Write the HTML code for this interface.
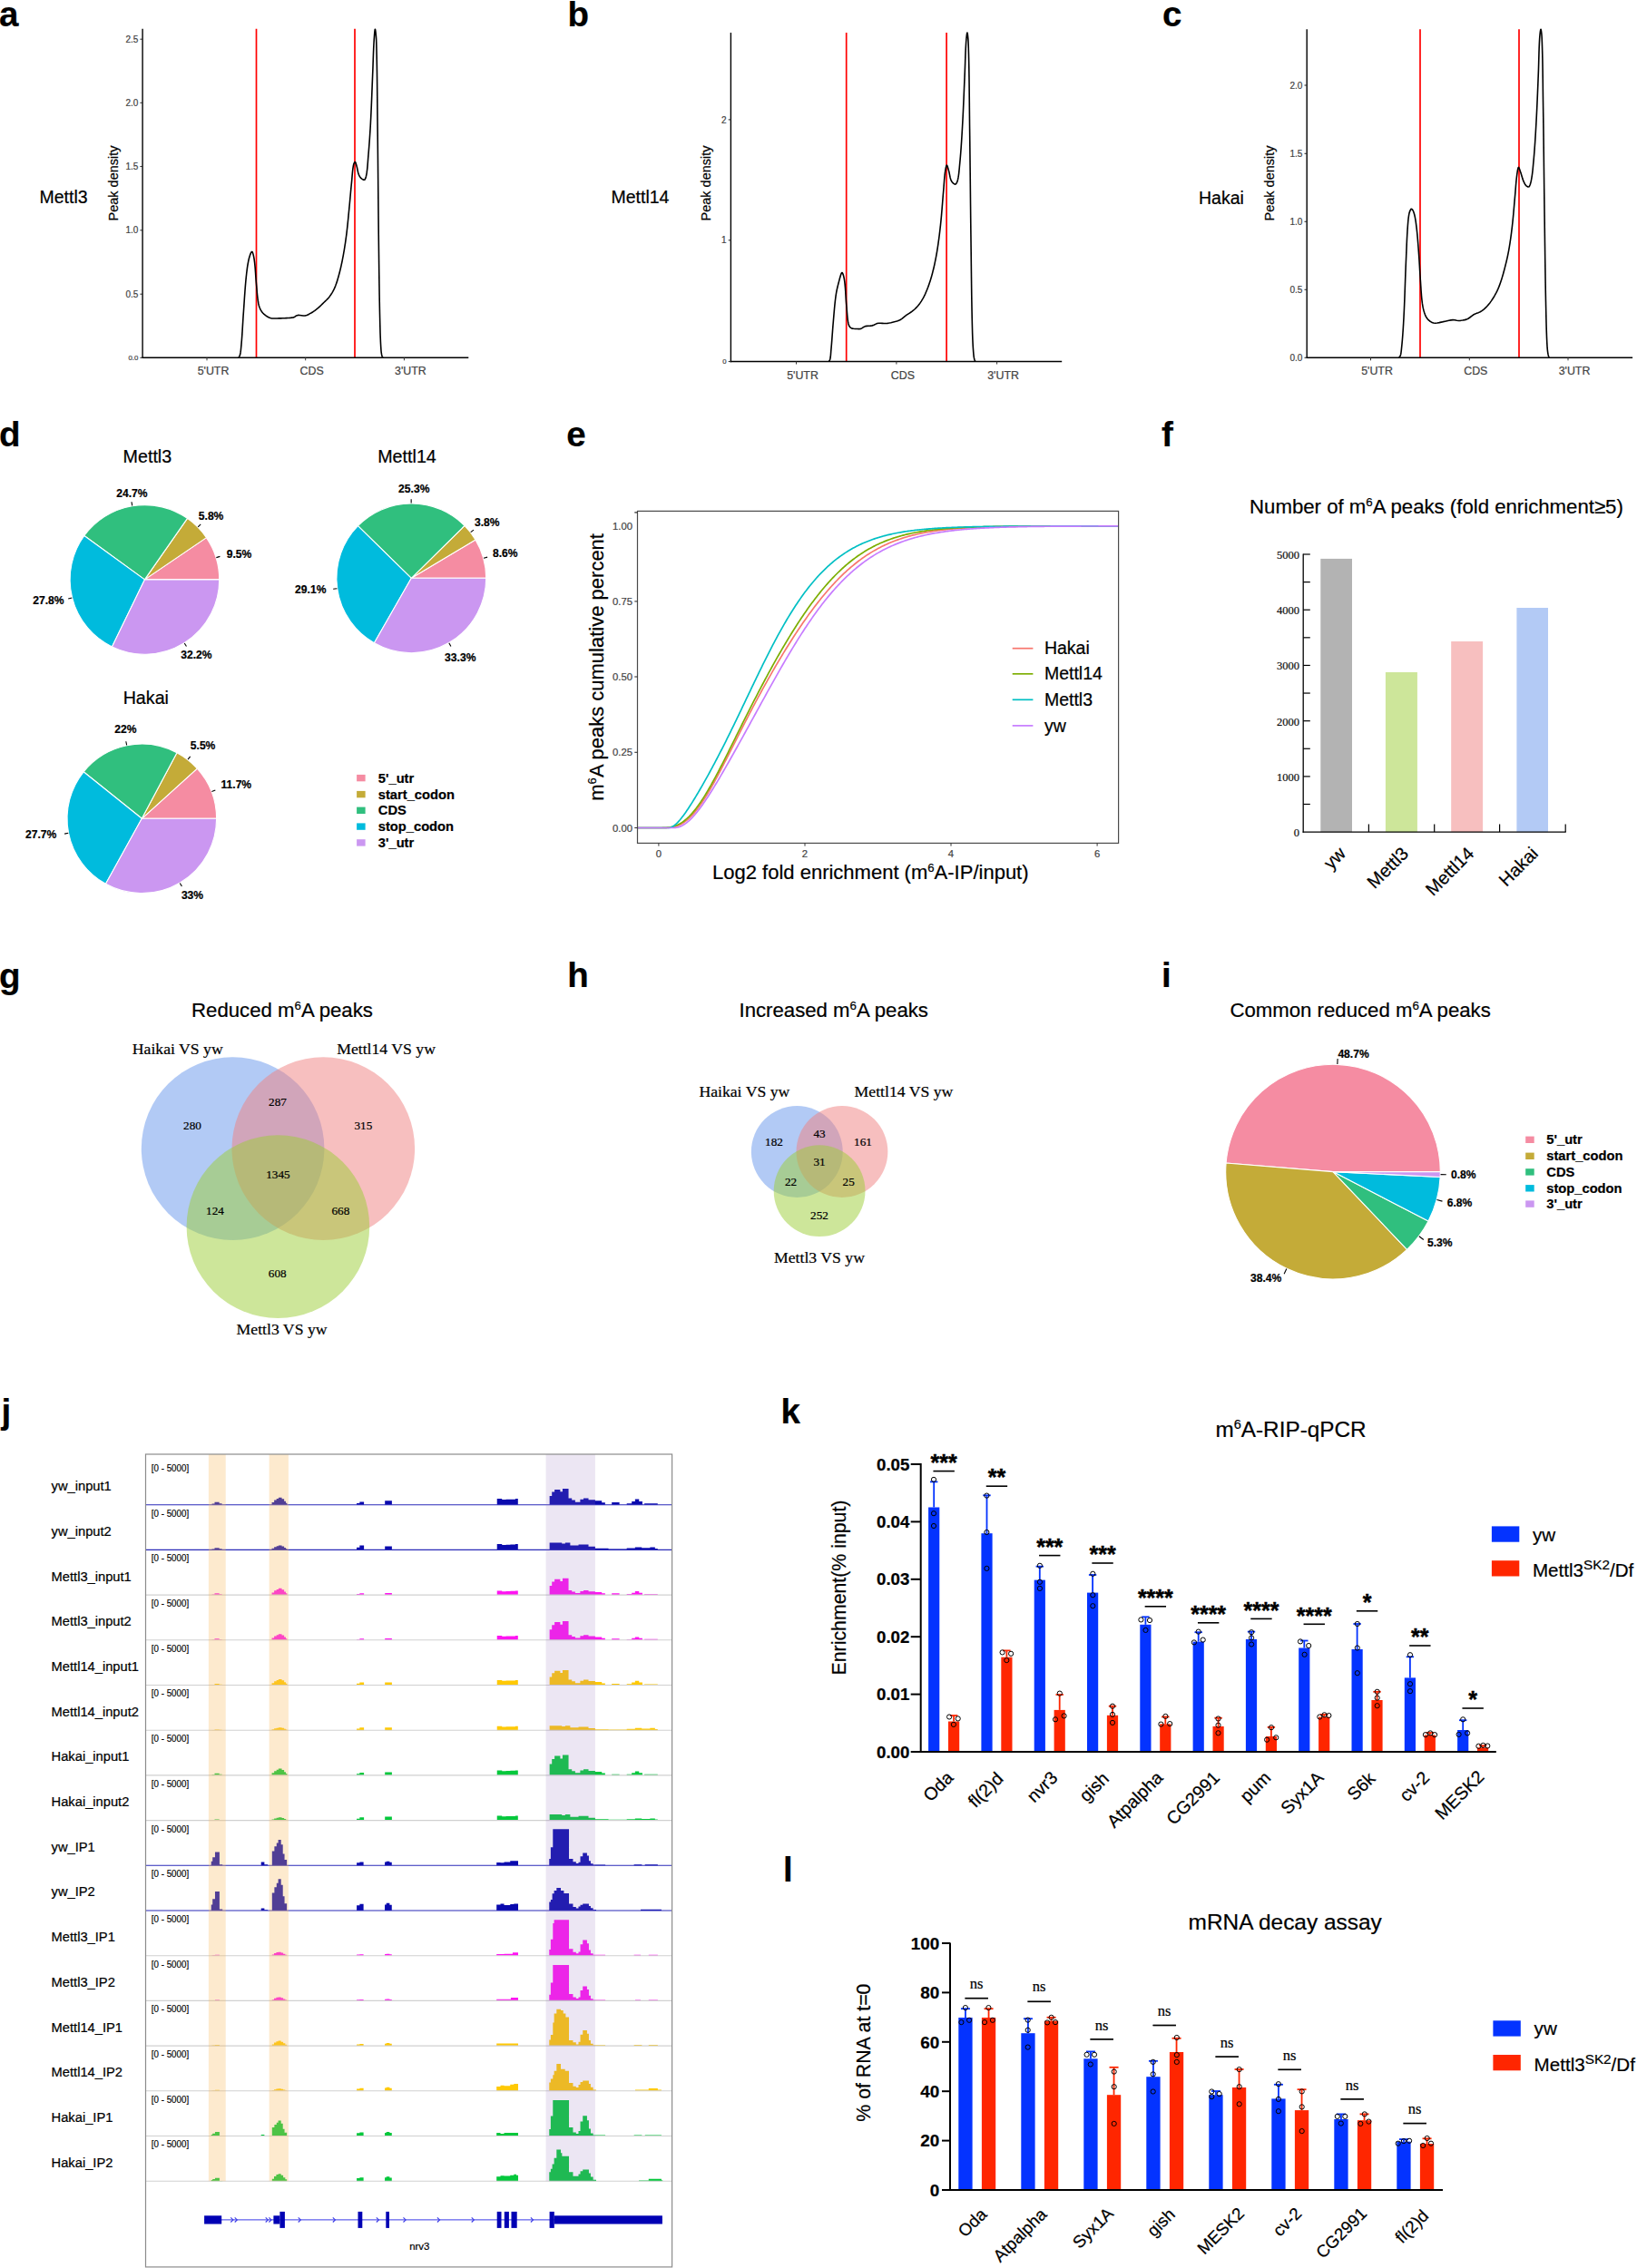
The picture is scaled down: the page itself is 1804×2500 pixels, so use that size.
<!DOCTYPE html>
<html lang="en">
<head>
<meta charset="utf-8">
<title>Figure: m6A peak analysis</title>
<style>
html,body{margin:0;padding:0;background:#fff;}
body{width:1804px;height:2500px;overflow:hidden;}
svg{display:block;font-family:'Liberation Sans', sans-serif;}
text{white-space:pre;}
</style>
</head>
<body>
<svg width="1804" height="2500" viewBox="0 0 1804 2500">
<rect x="0" y="0" width="1804" height="2500" fill="#ffffff"/>
<text x="-1" y="28.5" font-size="38.5" font-weight="bold" stroke="#000" stroke-width="0.22">a</text>
<text x="43.5" y="224" font-size="19.5" stroke="#000" stroke-width="0.22">Mettl3</text>
<text x="129.5" y="202" font-size="14.5" text-anchor="middle" transform="rotate(-90 129.5 202)" stroke="#000" stroke-width="0.22">Peak density</text>
<line x1="282.5" y1="31.7" x2="282.5" y2="394.3" stroke="#ff0000" stroke-width="1.7"/>
<line x1="391" y1="31.7" x2="391" y2="394.3" stroke="#ff0000" stroke-width="1.7"/>
<polyline points="262.9,394.3 263.96,392.59 264.64,390.81 265,388.94 265.27,387 265.49,385.02 265.67,383.04 265.85,381.08 266.02,379.14 266.19,377.19 266.35,375.24 266.49,373.28 266.63,371.33 266.77,369.38 266.89,367.42 267.02,365.47 267.14,363.51 267.26,361.56 267.37,359.6 267.49,357.65 267.61,355.69 267.72,353.74 267.85,351.78 267.97,349.83 268.1,347.87 268.23,345.92 268.37,343.96 268.51,342.01 268.65,340.06 268.78,338.1 268.91,336.15 269.04,334.19 269.17,332.23 269.3,330.28 269.43,328.32 269.56,326.37 269.7,324.41 269.84,322.46 269.98,320.5 270.13,318.55 270.28,316.6 270.44,314.65 270.6,312.7 270.77,310.75 270.95,308.8 271.14,306.85 271.34,304.91 271.55,302.97 271.76,301.02 271.99,299.06 272.24,297.1 272.5,295.14 272.79,293.19 273.11,291.25 273.46,289.33 273.84,287.42 274.27,285.54 274.8,283.51 275.55,281.13 276.39,278.95 277.21,277.54 277.9,277.47 278.59,278.87 279.23,281.11 279.75,283.57 280.1,285.63 280.37,287.55 280.6,289.47 280.81,291.41 281,293.35 281.17,295.3 281.32,297.26 281.46,299.22 281.6,301.19 281.73,303.15 281.86,305.12 282,307.08 282.15,309.05 282.31,311 282.5,312.96 282.68,314.91 282.85,316.87 283.02,318.84 283.18,320.81 283.35,322.78 283.53,324.74 283.72,326.7 283.94,328.65 284.19,330.58 284.47,332.5 284.79,334.39 285.19,336.28 285.79,338.19 286.54,340.06 287.4,341.8 288.38,343.39 289.62,344.94 291.05,346.39 292.61,347.67 294.2,348.72 295.92,349.71 297.78,350.56 299.67,350.99 301.57,350.99 303.51,350.97 305.48,350.94 307.46,350.89 309.44,350.84 311.41,350.79 313.39,350.72 315.38,350.63 317.37,350.51 319.34,350.36 321.26,350.16 323.14,349.92 324.91,349.17 326.61,347.95 328.39,347.4 330.3,347.55 332.29,347.81 334.27,348.05 336.17,348.06 338.02,347.56 339.83,346.69 341.6,345.67 343.32,344.72 344.99,343.71 346.62,342.6 348.2,341.42 349.74,340.21 351.23,338.95 352.66,337.62 354.06,336.24 355.44,334.85 356.85,333.47 358.29,332.13 359.73,330.78 361.11,329.39 362.38,327.93 363.55,326.39 364.68,324.78 365.76,323.11 366.77,321.41 367.7,319.67 368.53,317.93 369.29,316.15 370,314.33 370.66,312.49 371.29,310.62 371.88,308.74 372.44,306.84 372.97,304.95 373.49,303.06 373.99,301.18 374.48,299.28 374.95,297.38 375.4,295.48 375.84,293.56 376.26,291.65 376.67,289.73 377.07,287.81 377.45,285.89 377.83,283.96 378.18,282.04 378.53,280.12 378.87,278.19 379.2,276.26 379.52,274.33 379.83,272.39 380.13,270.46 380.43,268.52 380.72,266.58 380.99,264.64 381.26,262.7 381.52,260.76 381.77,258.82 382.02,256.87 382.25,254.93 382.47,252.99 382.69,251.04 382.9,249.1 383.11,247.15 383.31,245.2 383.5,243.25 383.7,241.3 383.89,239.35 384.07,237.4 384.26,235.45 384.44,233.5 384.63,231.55 384.82,229.6 385,227.65 385.19,225.71 385.37,223.76 385.55,221.81 385.73,219.86 385.91,217.91 386.08,215.95 386.25,214 386.43,212.05 386.61,210.1 386.79,208.15 386.97,206.2 387.16,204.25 387.35,202.31 387.54,200.36 387.73,198.39 387.89,196.42 388.05,194.43 388.2,192.44 388.38,190.46 388.57,188.5 388.8,186.56 389.07,184.64 389.4,182.76 389.81,180.89 390.72,178.74 391.59,178.64 392.36,180.65 393,182.83 393.49,184.73 393.89,186.68 394.28,188.62 394.73,190.53 395.32,192.35 396.16,194.17 397.27,195.83 398.72,197.12 400.63,198.18 401.99,198.14 402.98,196.21 403.52,194.15 403.87,192.3 404.18,190.42 404.44,188.5 404.67,186.56 404.87,184.6 405.05,182.62 405.21,180.63 405.36,178.64 405.5,176.65 405.65,174.67 405.8,172.7 405.96,170.75 406.13,168.8 406.29,166.85 406.45,164.9 406.6,162.94 406.75,160.99 406.9,159.04 407.04,157.09 407.19,155.13 407.32,153.18 407.45,151.22 407.58,149.27 407.71,147.31 407.83,145.36 407.95,143.41 408.07,141.45 408.18,139.5 408.29,137.54 408.39,135.59 408.49,133.63 408.59,131.68 408.69,129.72 408.78,127.76 408.88,125.81 408.97,123.85 409.05,121.9 409.14,119.94 409.22,117.98 409.31,116.03 409.39,114.07 409.47,112.11 409.55,110.16 409.63,108.2 409.71,106.24 409.78,104.29 409.86,102.33 409.93,100.37 410.01,98.42 410.09,96.46 410.16,94.5 410.24,92.55 410.32,90.59 410.39,88.63 410.47,86.68 410.55,84.72 410.63,82.76 410.71,80.81 410.79,78.85 410.87,76.89 410.94,74.93 411.01,72.98 411.07,71.02 411.14,69.06 411.21,67.1 411.27,65.15 411.34,63.19 411.41,61.23 411.48,59.27 411.56,57.32 411.64,55.36 411.72,53.4 411.82,51.45 411.91,49.49 412.02,47.54 412.13,45.59 412.25,43.59 412.41,41.21 412.59,38.63 412.79,36.15 413.01,34.05 413.22,32.64 413.43,32.21 413.65,32.92 413.9,34.54 414.16,36.77 414.39,39.31 414.57,41.86 414.69,44.13 414.75,46.09 414.81,48.04 414.87,49.99 414.92,51.95 414.97,53.9 415.02,55.85 415.07,57.81 415.11,59.76 415.16,61.72 415.2,63.67 415.24,65.63 415.28,67.59 415.31,69.54 415.35,71.5 415.38,73.46 415.41,75.42 415.44,77.37 415.47,79.33 415.5,81.29 415.52,83.25 415.55,85.21 415.57,87.17 415.6,89.13 415.62,91.08 415.64,93.04 415.66,95 415.68,96.96 415.7,98.92 415.72,100.88 415.74,102.84 415.75,104.8 415.77,106.76 415.79,108.72 415.81,110.68 415.82,112.65 415.84,114.61 415.86,116.57 415.87,118.53 415.89,120.49 415.91,122.45 415.92,124.41 415.94,126.37 415.96,128.32 415.98,130.28 416,132.24 416.02,134.2 416.04,136.16 416.06,138.12 416.08,140.08 416.1,142.04 416.12,143.99 416.15,145.95 416.17,147.91 416.19,149.87 416.21,151.83 416.23,153.78 416.25,155.74 416.27,157.7 416.29,159.66 416.31,161.62 416.33,163.57 416.35,165.53 416.37,167.49 416.39,169.45 416.41,171.41 416.43,173.37 416.45,175.32 416.47,177.28 416.48,179.24 416.5,181.2 416.52,183.16 416.54,185.11 416.55,187.07 416.57,189.03 416.59,190.99 416.61,192.95 416.62,194.9 416.64,196.86 416.66,198.82 416.68,200.78 416.69,202.74 416.71,204.69 416.73,206.65 416.74,208.61 416.76,210.57 416.78,212.53 416.8,214.49 416.81,216.44 416.83,218.4 416.85,220.36 416.87,222.32 416.89,224.28 416.9,226.23 416.92,228.19 416.94,230.15 416.96,232.11 416.98,234.07 417,236.02 417.02,237.98 417.04,239.94 417.06,241.9 417.08,243.86 417.1,245.81 417.12,247.77 417.14,249.73 417.16,251.69 417.18,253.65 417.2,255.6 417.22,257.56 417.25,259.52 417.27,261.48 417.29,263.44 417.32,265.39 417.34,267.35 417.36,269.31 417.39,271.27 417.41,273.23 417.43,275.18 417.46,277.14 417.48,279.1 417.5,281.06 417.53,283.02 417.55,284.98 417.57,286.93 417.6,288.89 417.62,290.85 417.65,292.81 417.67,294.77 417.7,296.72 417.72,298.68 417.75,300.64 417.77,302.6 417.8,304.56 417.83,306.52 417.85,308.47 417.88,310.43 417.91,312.39 417.94,314.35 417.97,316.31 418,318.26 418.03,320.22 418.06,322.18 418.09,324.14 418.13,326.09 418.16,328.05 418.19,330.01 418.23,331.97 418.27,333.93 418.3,335.88 418.34,337.84 418.38,339.8 418.42,341.76 418.46,343.71 418.5,345.67 418.55,347.63 418.59,349.59 418.64,351.54 418.68,353.5 418.72,355.46 418.77,357.42 418.82,359.39 418.87,361.35 418.92,363.31 418.97,365.27 419.03,367.23 419.1,369.19 419.17,371.15 419.25,373.11 419.33,375.07 419.42,377.02 419.52,378.98 419.63,380.93 419.75,382.88 419.87,384.82 420.01,386.76 420.22,388.72 420.56,390.67 421.01,392.55 421.9,394.3" fill="none" stroke="#000" stroke-width="1.6" stroke-linejoin="round"/>
<line x1="157.1" y1="31.7" x2="157.1" y2="395" stroke="#000" stroke-width="1.4"/>
<line x1="156.4" y1="394.3" x2="516.3" y2="394.3" stroke="#000" stroke-width="1.4"/>
<line x1="154.4" y1="43.2" x2="157.1" y2="43.2" stroke="#333" stroke-width="1.1"/>
<text x="152.3" y="46.8" font-size="10" text-anchor="end" fill="#444" stroke="#444" stroke-width="0.22">2.5</text>
<line x1="154.4" y1="113.3" x2="157.1" y2="113.3" stroke="#333" stroke-width="1.1"/>
<text x="152.3" y="116.9" font-size="10" text-anchor="end" fill="#444" stroke="#444" stroke-width="0.22">2.0</text>
<line x1="154.4" y1="183.5" x2="157.1" y2="183.5" stroke="#333" stroke-width="1.1"/>
<text x="152.3" y="187.1" font-size="10" text-anchor="end" fill="#444" stroke="#444" stroke-width="0.22">1.5</text>
<line x1="154.4" y1="253.8" x2="157.1" y2="253.8" stroke="#333" stroke-width="1.1"/>
<text x="152.3" y="257.4" font-size="10" text-anchor="end" fill="#444" stroke="#444" stroke-width="0.22">1.0</text>
<line x1="154.4" y1="324.2" x2="157.1" y2="324.2" stroke="#333" stroke-width="1.1"/>
<text x="152.3" y="327.8" font-size="10" text-anchor="end" fill="#444" stroke="#444" stroke-width="0.22">0.5</text>
<line x1="154.4" y1="394.3" x2="157.1" y2="394.3" stroke="#333" stroke-width="1.1"/>
<text x="152.3" y="397.11" font-size="7.8" text-anchor="end" fill="#444" stroke="#444" stroke-width="0.22">0.0</text>
<line x1="228" y1="394.3" x2="228" y2="397.3" stroke="#333" stroke-width="1"/>
<text x="235" y="413.3" font-size="12.4" text-anchor="middle" fill="#444" stroke="#444" stroke-width="0.22">5'UTR</text>
<line x1="336.7" y1="394.3" x2="336.7" y2="397.3" stroke="#333" stroke-width="1"/>
<text x="343.7" y="413.3" font-size="12.4" text-anchor="middle" fill="#444" stroke="#444" stroke-width="0.22">CDS</text>
<line x1="445.4" y1="394.3" x2="445.4" y2="397.3" stroke="#333" stroke-width="1"/>
<text x="452.4" y="413.3" font-size="12.4" text-anchor="middle" fill="#444" stroke="#444" stroke-width="0.22">3'UTR</text>
<text x="625.5" y="28.5" font-size="38.5" font-weight="bold" stroke="#000" stroke-width="0.22">b</text>
<text x="673.5" y="223.8" font-size="19.5" stroke="#000" stroke-width="0.22">Mettl14</text>
<text x="783" y="202" font-size="14.5" text-anchor="middle" transform="rotate(-90 783 202)" stroke="#000" stroke-width="0.22">Peak density</text>
<line x1="932.7" y1="36.1" x2="932.7" y2="398.5" stroke="#ff0000" stroke-width="1.7"/>
<line x1="1043.1" y1="36.1" x2="1043.1" y2="398.5" stroke="#ff0000" stroke-width="1.7"/>
<polyline points="913.4,398.5 914.48,396.85 914.97,395.09 915.24,393.23 915.43,391.3 915.58,389.35 915.72,387.4 915.89,385.48 916.06,383.57 916.22,381.66 916.38,379.74 916.53,377.83 916.68,375.91 916.82,374 916.96,372.08 917.1,370.17 917.24,368.25 917.39,366.34 917.53,364.42 917.67,362.51 917.82,360.59 917.97,358.68 918.13,356.76 918.3,354.85 918.46,352.94 918.62,351.02 918.78,349.11 918.94,347.19 919.1,345.27 919.26,343.35 919.43,341.44 919.6,339.52 919.78,337.61 919.97,335.7 920.17,333.79 920.38,331.88 920.6,329.98 920.84,328.08 921.09,326.18 921.37,324.29 921.69,322.4 922.05,320.51 922.44,318.62 922.87,316.75 923.33,314.87 923.81,313.01 924.3,311.16 924.84,309.15 925.44,306.8 926.1,304.43 926.78,302.37 927.44,300.95 928.07,300.51 928.74,301.43 929.42,303.38 930.02,305.78 930.46,308.02 930.72,309.9 930.96,311.78 931.16,313.67 931.34,315.57 931.5,317.48 931.64,319.4 931.77,321.32 931.89,323.25 932.01,325.18 932.13,327.11 932.24,329.04 932.37,330.97 932.5,332.89 932.65,334.81 932.82,336.73 933,338.65 933.16,340.62 933.32,342.62 933.47,344.64 933.63,346.67 933.8,348.67 934,350.65 934.23,352.56 934.51,354.41 934.84,356.17 935.24,357.83 935.9,359.47 937.28,361.14 938.92,362.09 940.62,362.29 942.56,362.44 944.59,362.54 946.59,362.59 948.42,362.48 950.13,361.6 951.81,360.43 953.56,359.63 955.42,359.38 957.35,359.24 959.29,359.1 961.19,358.87 963.01,358.25 964.79,357.36 966.57,356.55 968.4,356.2 970.29,356.25 972.22,356.36 974.15,356.47 976.07,356.5 977.98,356.36 979.88,356.08 981.78,355.68 983.66,355.24 985.53,354.79 987.4,354.31 989.26,353.74 991.04,353.05 992.69,352.2 994.23,351.07 995.72,349.81 997.23,348.56 998.79,347.43 1000.4,346.36 1002.03,345.3 1003.64,344.24 1005.22,343.14 1006.72,341.98 1008.12,340.72 1009.49,339.38 1010.81,337.96 1012.08,336.48 1013.28,334.96 1014.4,333.4 1015.42,331.82 1016.4,330.2 1017.34,328.52 1018.24,326.81 1019.1,325.07 1019.92,323.31 1020.7,321.53 1021.44,319.76 1022.15,317.98 1022.82,316.2 1023.48,314.4 1024.11,312.59 1024.73,310.76 1025.31,308.93 1025.88,307.08 1026.43,305.23 1026.95,303.38 1027.45,301.52 1027.93,299.66 1028.39,297.81 1028.84,295.94 1029.27,294.08 1029.7,292.2 1030.1,290.33 1030.5,288.44 1030.88,286.56 1031.26,284.67 1031.61,282.78 1031.96,280.89 1032.29,279 1032.62,277.1 1032.93,275.21 1033.22,273.31 1033.51,271.42 1033.79,269.52 1034.06,267.62 1034.33,265.72 1034.58,263.81 1034.83,261.91 1035.08,260 1035.31,258.1 1035.55,256.19 1035.77,254.28 1035.99,252.37 1036.2,250.46 1036.41,248.55 1036.61,246.64 1036.81,244.73 1037,242.82 1037.18,240.91 1037.36,239 1037.53,237.09 1037.7,235.18 1037.86,233.26 1038.02,231.35 1038.17,229.44 1038.32,227.52 1038.48,225.61 1038.63,223.69 1038.78,221.78 1038.93,219.86 1039.08,217.95 1039.24,216.03 1039.4,214.12 1039.56,212.21 1039.73,210.29 1039.89,208.38 1040.03,206.46 1040.17,204.54 1040.31,202.61 1040.46,200.69 1040.6,198.77 1040.76,196.85 1040.94,194.94 1041.14,193.04 1041.36,191.14 1041.61,189.25 1041.92,187.19 1042.37,184.74 1042.9,182.73 1043.46,182.01 1044.09,183.21 1044.76,185.48 1045.37,187.63 1045.86,189.53 1046.27,191.5 1046.66,193.48 1047.07,195.42 1047.56,197.25 1048.17,198.92 1049.08,200.49 1050.61,202.14 1052.22,203.2 1053.5,202.82 1054.63,200.91 1055.26,199 1055.68,197.23 1056.03,195.39 1056.33,193.51 1056.59,191.58 1056.81,189.64 1057.01,187.67 1057.2,185.71 1057.37,183.76 1057.55,181.82 1057.73,179.91 1057.91,178 1058.08,176.09 1058.25,174.18 1058.41,172.27 1058.57,170.36 1058.72,168.44 1058.87,166.53 1059.01,164.61 1059.15,162.7 1059.28,160.78 1059.41,158.86 1059.54,156.95 1059.66,155.03 1059.78,153.11 1059.9,151.19 1060.02,149.28 1060.13,147.36 1060.24,145.44 1060.35,143.52 1060.46,141.6 1060.57,139.69 1060.67,137.77 1060.78,135.85 1060.88,133.94 1060.98,132.02 1061.08,130.1 1061.18,128.18 1061.27,126.27 1061.36,124.35 1061.45,122.43 1061.54,120.51 1061.63,118.59 1061.71,116.68 1061.8,114.76 1061.88,112.84 1061.96,110.92 1062.05,109 1062.13,107.08 1062.21,105.16 1062.29,103.25 1062.37,101.33 1062.44,99.41 1062.52,97.49 1062.6,95.57 1062.68,93.65 1062.76,91.73 1062.84,89.81 1062.92,87.9 1063,85.98 1063.08,84.06 1063.16,82.14 1063.24,80.22 1063.31,78.3 1063.38,76.38 1063.45,74.46 1063.52,72.54 1063.58,70.62 1063.64,68.7 1063.7,66.78 1063.77,64.86 1063.83,62.94 1063.9,61.02 1063.97,59.1 1064.05,57.18 1064.14,55.26 1064.23,53.35 1064.33,51.43 1064.44,49.52 1064.55,47.6 1064.69,45.57 1064.89,43.15 1065.13,40.63 1065.39,38.38 1065.65,36.75 1065.89,36.1 1066.13,36.68 1066.39,38.25 1066.64,40.48 1066.87,42.99 1067.03,45.44 1067.12,47.49 1067.18,49.4 1067.25,51.32 1067.3,53.23 1067.36,55.15 1067.41,57.06 1067.47,58.98 1067.52,60.89 1067.56,62.81 1067.61,64.73 1067.65,66.64 1067.69,68.56 1067.73,70.48 1067.77,72.4 1067.81,74.32 1067.84,76.24 1067.87,78.16 1067.9,80.08 1067.93,82 1067.96,83.92 1067.99,85.84 1068.02,87.76 1068.04,89.68 1068.07,91.6 1068.09,93.52 1068.11,95.45 1068.13,97.37 1068.15,99.29 1068.17,101.21 1068.19,103.13 1068.21,105.06 1068.23,106.98 1068.25,108.9 1068.27,110.82 1068.29,112.75 1068.31,114.67 1068.32,116.59 1068.34,118.51 1068.36,120.43 1068.38,122.36 1068.4,124.28 1068.42,126.2 1068.44,128.12 1068.46,130.04 1068.48,131.97 1068.5,133.89 1068.52,135.81 1068.54,137.73 1068.57,139.65 1068.59,141.57 1068.62,143.49 1068.64,145.41 1068.67,147.33 1068.69,149.25 1068.72,151.17 1068.74,153.09 1068.76,155.01 1068.79,156.93 1068.81,158.85 1068.83,160.77 1068.86,162.69 1068.88,164.61 1068.9,166.53 1068.92,168.45 1068.95,170.37 1068.97,172.29 1068.99,174.21 1069.01,176.13 1069.03,178.05 1069.05,179.97 1069.07,181.89 1069.09,183.81 1069.12,185.73 1069.14,187.65 1069.16,189.57 1069.18,191.49 1069.2,193.41 1069.22,195.33 1069.24,197.25 1069.26,199.17 1069.28,201.09 1069.3,203.01 1069.32,204.93 1069.34,206.85 1069.36,208.77 1069.38,210.69 1069.4,212.61 1069.42,214.53 1069.44,216.45 1069.46,218.37 1069.48,220.29 1069.5,222.21 1069.52,224.13 1069.54,226.05 1069.57,227.97 1069.59,229.89 1069.61,231.81 1069.63,233.73 1069.65,235.65 1069.67,237.57 1069.69,239.49 1069.72,241.41 1069.74,243.33 1069.76,245.25 1069.78,247.17 1069.81,249.09 1069.83,251.01 1069.85,252.93 1069.88,254.85 1069.9,256.77 1069.93,258.69 1069.95,260.61 1069.98,262.53 1070,264.45 1070.03,266.37 1070.05,268.29 1070.07,270.21 1070.1,272.13 1070.12,274.05 1070.15,275.97 1070.17,277.89 1070.19,279.81 1070.21,281.73 1070.24,283.65 1070.26,285.57 1070.28,287.5 1070.3,289.42 1070.32,291.34 1070.35,293.26 1070.37,295.18 1070.39,297.1 1070.41,299.02 1070.44,300.94 1070.46,302.86 1070.48,304.78 1070.51,306.7 1070.53,308.62 1070.56,310.54 1070.58,312.46 1070.61,314.38 1070.63,316.3 1070.66,318.22 1070.69,320.14 1070.71,322.06 1070.74,323.98 1070.77,325.9 1070.8,327.82 1070.83,329.74 1070.86,331.66 1070.9,333.58 1070.93,335.5 1070.96,337.42 1071,339.34 1071.03,341.26 1071.07,343.18 1071.11,345.1 1071.15,347.02 1071.19,348.94 1071.23,350.86 1071.27,352.78 1071.32,354.69 1071.36,356.61 1071.41,358.53 1071.46,360.45 1071.51,362.37 1071.56,364.29 1071.61,366.21 1071.67,368.13 1071.74,370.06 1071.81,371.98 1071.88,373.9 1071.97,375.83 1072.06,377.75 1072.16,379.67 1072.26,381.59 1072.38,383.51 1072.51,385.42 1072.65,387.33 1072.81,389.24 1072.98,391.14 1073.19,393.05 1073.53,394.97 1074,396.8 1074.9,398.5" fill="none" stroke="#000" stroke-width="1.6" stroke-linejoin="round"/>
<line x1="805.4" y1="36.1" x2="805.4" y2="399.2" stroke="#000" stroke-width="1.4"/>
<line x1="804.7" y1="398.5" x2="1170.2" y2="398.5" stroke="#000" stroke-width="1.4"/>
<line x1="802.7" y1="131.9" x2="805.4" y2="131.9" stroke="#333" stroke-width="1.1"/>
<text x="800.6" y="135.5" font-size="10" text-anchor="end" fill="#444" stroke="#444" stroke-width="0.22">2</text>
<line x1="802.7" y1="264.8" x2="805.4" y2="264.8" stroke="#333" stroke-width="1.1"/>
<text x="800.6" y="268.4" font-size="10" text-anchor="end" fill="#444" stroke="#444" stroke-width="0.22">1</text>
<line x1="802.7" y1="398.5" x2="805.4" y2="398.5" stroke="#333" stroke-width="1.1"/>
<text x="800.6" y="401.31" font-size="7.8" text-anchor="end" fill="#444" stroke="#444" stroke-width="0.22">0</text>
<line x1="877.5" y1="398.5" x2="877.5" y2="401.5" stroke="#333" stroke-width="1"/>
<text x="884.5" y="417.5" font-size="12.4" text-anchor="middle" fill="#444" stroke="#444" stroke-width="0.22">5'UTR</text>
<line x1="987.9" y1="398.5" x2="987.9" y2="401.5" stroke="#333" stroke-width="1"/>
<text x="994.9" y="417.5" font-size="12.4" text-anchor="middle" fill="#444" stroke="#444" stroke-width="0.22">CDS</text>
<line x1="1098.6" y1="398.5" x2="1098.6" y2="401.5" stroke="#333" stroke-width="1"/>
<text x="1105.6" y="417.5" font-size="12.4" text-anchor="middle" fill="#444" stroke="#444" stroke-width="0.22">3'UTR</text>
<text x="1281" y="28.5" font-size="38.5" font-weight="bold" stroke="#000" stroke-width="0.22">c</text>
<text x="1321" y="224.5" font-size="19.5" stroke="#000" stroke-width="0.22">Hakai</text>
<text x="1404" y="202" font-size="14.5" text-anchor="middle" transform="rotate(-90 1404 202)" stroke="#000" stroke-width="0.22">Peak density</text>
<line x1="1565" y1="32.2" x2="1565" y2="394.3" stroke="#ff0000" stroke-width="1.7"/>
<line x1="1674" y1="32.2" x2="1674" y2="394.3" stroke="#ff0000" stroke-width="1.7"/>
<polyline points="1541.6,394.3 1543.04,392.59 1543.64,390.65 1544.01,388.52 1544.27,386.3 1544.5,384.1 1544.72,381.94 1544.94,379.79 1545.14,377.63 1545.33,375.47 1545.51,373.3 1545.68,371.14 1545.84,368.97 1545.99,366.81 1546.14,364.64 1546.28,362.47 1546.42,360.3 1546.55,358.13 1546.67,355.97 1546.79,353.8 1546.91,351.63 1547.02,349.46 1547.13,347.3 1547.24,345.13 1547.34,342.96 1547.44,340.79 1547.53,338.63 1547.63,336.46 1547.71,334.29 1547.8,332.12 1547.88,329.95 1547.97,327.78 1548.05,325.61 1548.12,323.44 1548.2,321.28 1548.28,319.11 1548.35,316.94 1548.43,314.77 1548.5,312.6 1548.58,310.43 1548.65,308.26 1548.73,306.09 1548.81,303.92 1548.88,301.75 1548.96,299.58 1549.05,297.41 1549.13,295.24 1549.22,293.07 1549.31,290.9 1549.4,288.74 1549.5,286.57 1549.59,284.4 1549.68,282.23 1549.76,280.06 1549.85,277.89 1549.94,275.72 1550.03,273.55 1550.12,271.38 1550.21,269.21 1550.31,267.04 1550.41,264.87 1550.51,262.7 1550.63,260.54 1550.74,258.37 1550.87,256.2 1551,254.04 1551.15,251.88 1551.3,249.71 1551.46,247.54 1551.63,245.34 1551.82,243.14 1552.05,240.96 1552.33,238.8 1552.67,236.69 1553.09,234.63 1553.95,232.13 1555.1,230.28 1556.3,230.7 1557.56,232.95 1558.28,235 1558.84,237.03 1559.32,239.14 1559.72,241.3 1560.07,243.48 1560.39,245.68 1560.67,247.87 1560.94,250.03 1561.2,252.18 1561.44,254.33 1561.66,256.49 1561.87,258.65 1562.07,260.81 1562.26,262.98 1562.43,265.14 1562.61,267.31 1562.77,269.48 1562.93,271.64 1563.09,273.81 1563.25,275.98 1563.41,278.14 1563.56,280.3 1563.71,282.47 1563.85,284.64 1563.98,286.8 1564.11,288.97 1564.24,291.14 1564.37,293.3 1564.49,295.47 1564.62,297.64 1564.75,299.8 1564.88,301.97 1565.02,304.14 1565.16,306.3 1565.31,308.47 1565.46,310.63 1565.6,312.8 1565.73,314.98 1565.87,317.15 1566.01,319.32 1566.16,321.49 1566.32,323.66 1566.49,325.82 1566.69,327.98 1566.9,330.13 1567.14,332.28 1567.41,334.43 1567.76,336.6 1568.16,338.77 1568.64,340.93 1569.19,343.03 1569.81,345.07 1570.53,347.05 1571.51,349.08 1572.73,351.04 1574.12,352.71 1575.65,353.98 1577.57,355.14 1579.69,355.99 1581.79,356.19 1583.89,355.99 1586.04,355.62 1588.2,355.15 1590.36,354.66 1592.51,354.24 1594.65,353.79 1596.79,353.3 1598.92,352.87 1601.06,352.62 1603.2,352.76 1605.33,353.31 1607.47,353.49 1609.66,353.33 1611.86,353.02 1614,352.61 1616.01,352.13 1617.9,351.24 1619.7,350 1621.48,348.61 1623.28,347.27 1625.16,346.17 1627.19,345.37 1629.27,344.64 1631.22,343.79 1633.03,342.66 1634.77,341.33 1636.43,339.86 1637.99,338.33 1639.46,336.77 1640.87,335.13 1642.21,333.4 1643.49,331.62 1644.71,329.8 1645.86,327.97 1646.96,326.11 1648.02,324.21 1649.03,322.28 1650,320.32 1650.9,318.34 1651.74,316.34 1652.52,314.34 1653.27,312.31 1653.98,310.26 1654.65,308.19 1655.3,306.12 1655.92,304.03 1656.53,301.93 1657.11,299.83 1657.67,297.73 1658.22,295.64 1658.76,293.54 1659.29,291.43 1659.81,289.32 1660.31,287.21 1660.8,285.09 1661.27,282.97 1661.72,280.84 1662.15,278.71 1662.56,276.58 1662.94,274.45 1663.3,272.31 1663.65,270.17 1663.99,268.03 1664.31,265.88 1664.62,263.74 1664.93,261.58 1665.22,259.43 1665.5,257.28 1665.77,255.12 1666.04,252.96 1666.29,250.81 1666.54,248.65 1666.78,246.5 1667.01,244.34 1667.23,242.18 1667.44,240.02 1667.64,237.86 1667.84,235.7 1668.03,233.54 1668.22,231.37 1668.41,229.21 1668.6,227.05 1668.78,224.88 1668.96,222.72 1669.15,220.56 1669.34,218.4 1669.53,216.23 1669.73,214.07 1669.91,211.91 1670.08,209.74 1670.24,207.57 1670.41,205.4 1670.59,203.23 1670.77,201.07 1670.98,198.91 1671.2,196.76 1671.46,194.61 1671.75,192.37 1672.11,189.63 1672.55,186.93 1673.05,184.97 1673.63,184.46 1674.42,186.07 1675.31,188.67 1676.07,190.85 1676.71,192.94 1677.32,195.04 1677.96,197.12 1678.7,199.14 1679.59,201.16 1680.63,203.18 1681.91,204.84 1683.87,206.04 1685.27,205.7 1686.26,203.53 1686.95,201.02 1687.41,198.96 1687.81,196.87 1688.16,194.74 1688.47,192.6 1688.75,190.43 1689,188.25 1689.22,186.06 1689.43,183.87 1689.63,181.69 1689.83,179.51 1690.03,177.35 1690.23,175.2 1690.42,173.03 1690.6,170.87 1690.77,168.71 1690.94,166.55 1691.11,164.38 1691.26,162.22 1691.42,160.05 1691.57,157.88 1691.71,155.72 1691.85,153.55 1691.98,151.38 1692.12,149.21 1692.25,147.05 1692.37,144.88 1692.5,142.71 1692.62,140.54 1692.74,138.38 1692.86,136.21 1692.98,134.04 1693.09,131.88 1693.2,129.71 1693.31,127.54 1693.42,125.37 1693.52,123.21 1693.63,121.04 1693.73,118.87 1693.83,116.7 1693.93,114.53 1694.02,112.37 1694.12,110.2 1694.21,108.03 1694.3,105.86 1694.39,103.69 1694.48,101.52 1694.57,99.35 1694.66,97.18 1694.75,95.02 1694.84,92.85 1694.92,90.68 1695.01,88.51 1695.09,86.34 1695.18,84.17 1695.26,82 1695.35,79.83 1695.43,77.66 1695.5,75.49 1695.56,73.32 1695.62,71.15 1695.68,68.98 1695.74,66.8 1695.8,64.63 1695.86,62.46 1695.92,60.29 1695.98,58.12 1696.05,55.95 1696.13,53.78 1696.21,51.61 1696.3,49.44 1696.4,47.28 1696.52,45.11 1696.64,42.95 1696.8,40.67 1697.05,37.89 1697.36,35.14 1697.7,33.03 1698,32.2 1698.3,33.05 1698.62,35.16 1698.92,37.92 1699.13,40.7 1699.24,42.98 1699.32,45.14 1699.4,47.31 1699.47,49.47 1699.54,51.63 1699.6,53.8 1699.66,55.96 1699.72,58.13 1699.77,60.3 1699.82,62.47 1699.87,64.64 1699.92,66.81 1699.96,68.98 1700,71.15 1700.03,73.32 1700.07,75.49 1700.1,77.66 1700.13,79.83 1700.16,82.01 1700.19,84.18 1700.22,86.35 1700.25,88.53 1700.27,90.7 1700.3,92.87 1700.32,95.05 1700.34,97.22 1700.37,99.39 1700.39,101.57 1700.42,103.74 1700.44,105.91 1700.47,108.08 1700.5,110.26 1700.53,112.43 1700.56,114.6 1700.59,116.77 1700.62,118.94 1700.65,121.11 1700.68,123.28 1700.71,125.45 1700.74,127.62 1700.77,129.79 1700.8,131.96 1700.83,134.13 1700.86,136.3 1700.89,138.47 1700.92,140.64 1700.95,142.81 1700.97,144.98 1701,147.15 1701.03,149.32 1701.05,151.49 1701.08,153.66 1701.11,155.83 1701.13,158 1701.16,160.17 1701.18,162.34 1701.21,164.52 1701.23,166.69 1701.26,168.86 1701.28,171.03 1701.31,173.2 1701.33,175.37 1701.36,177.54 1701.38,179.71 1701.4,181.88 1701.43,184.05 1701.45,186.22 1701.48,188.39 1701.5,190.56 1701.53,192.73 1701.55,194.9 1701.58,197.07 1701.6,199.24 1701.62,201.41 1701.65,203.58 1701.67,205.75 1701.7,207.92 1701.72,210.09 1701.75,212.26 1701.78,214.43 1701.8,216.6 1701.83,218.77 1701.85,220.94 1701.88,223.11 1701.91,225.28 1701.94,227.45 1701.96,229.63 1701.99,231.8 1702.02,233.97 1702.05,236.14 1702.08,238.31 1702.11,240.48 1702.14,242.65 1702.17,244.82 1702.2,246.99 1702.22,249.16 1702.25,251.33 1702.28,253.5 1702.31,255.67 1702.34,257.84 1702.37,260.01 1702.4,262.18 1702.42,264.35 1702.45,266.52 1702.48,268.69 1702.51,270.86 1702.54,273.03 1702.57,275.2 1702.6,277.37 1702.62,279.54 1702.65,281.71 1702.68,283.88 1702.71,286.05 1702.74,288.22 1702.78,290.39 1702.81,292.56 1702.84,294.73 1702.87,296.91 1702.9,299.08 1702.94,301.25 1702.97,303.42 1703,305.59 1703.04,307.76 1703.07,309.93 1703.11,312.1 1703.15,314.27 1703.19,316.44 1703.22,318.61 1703.26,320.78 1703.3,322.95 1703.34,325.12 1703.39,327.29 1703.43,329.46 1703.47,331.63 1703.52,333.8 1703.56,335.97 1703.61,338.14 1703.66,340.31 1703.7,342.48 1703.75,344.65 1703.79,346.82 1703.84,348.99 1703.89,351.16 1703.94,353.34 1703.99,355.51 1704.05,357.68 1704.11,359.85 1704.17,362.02 1704.24,364.19 1704.31,366.36 1704.39,368.53 1704.47,370.7 1704.56,372.87 1704.66,375.03 1704.76,377.2 1704.88,379.36 1705,381.52 1705.14,383.69 1705.35,385.87 1705.62,388.03 1705.95,390.17 1706.4,392.27 1707.2,394.3" fill="none" stroke="#000" stroke-width="1.6" stroke-linejoin="round"/>
<line x1="1440.2" y1="32.2" x2="1440.2" y2="395" stroke="#000" stroke-width="1.4"/>
<line x1="1439.5" y1="394.3" x2="1799.1" y2="394.3" stroke="#000" stroke-width="1.4"/>
<line x1="1437.5" y1="94" x2="1440.2" y2="94" stroke="#333" stroke-width="1.1"/>
<text x="1435.4" y="97.6" font-size="10" text-anchor="end" fill="#444" stroke="#444" stroke-width="0.22">2.0</text>
<line x1="1437.5" y1="169.3" x2="1440.2" y2="169.3" stroke="#333" stroke-width="1.1"/>
<text x="1435.4" y="172.9" font-size="10" text-anchor="end" fill="#444" stroke="#444" stroke-width="0.22">1.5</text>
<line x1="1437.5" y1="244.3" x2="1440.2" y2="244.3" stroke="#333" stroke-width="1.1"/>
<text x="1435.4" y="247.9" font-size="10" text-anchor="end" fill="#444" stroke="#444" stroke-width="0.22">1.0</text>
<line x1="1437.5" y1="319.3" x2="1440.2" y2="319.3" stroke="#333" stroke-width="1.1"/>
<text x="1435.4" y="322.9" font-size="10" text-anchor="end" fill="#444" stroke="#444" stroke-width="0.22">0.5</text>
<line x1="1437.5" y1="394.3" x2="1440.2" y2="394.3" stroke="#333" stroke-width="1.1"/>
<text x="1435.4" y="397.9" font-size="10" text-anchor="end" fill="#444" stroke="#444" stroke-width="0.22">0.0</text>
<line x1="1510.5" y1="394.3" x2="1510.5" y2="397.3" stroke="#333" stroke-width="1"/>
<text x="1517.5" y="413.3" font-size="12.4" text-anchor="middle" fill="#444" stroke="#444" stroke-width="0.22">5'UTR</text>
<line x1="1619.3" y1="394.3" x2="1619.3" y2="397.3" stroke="#333" stroke-width="1"/>
<text x="1626.3" y="413.3" font-size="12.4" text-anchor="middle" fill="#444" stroke="#444" stroke-width="0.22">CDS</text>
<line x1="1728" y1="394.3" x2="1728" y2="397.3" stroke="#333" stroke-width="1"/>
<text x="1735" y="413.3" font-size="12.4" text-anchor="middle" fill="#444" stroke="#444" stroke-width="0.22">3'UTR</text>
<text x="-1" y="491.5" font-size="38.5" font-weight="bold" stroke="#000" stroke-width="0.22">d</text>
<text x="162.4" y="509.7" font-size="19.7" text-anchor="middle" stroke="#000" stroke-width="0.22">Mettl3</text>
<text x="448.5" y="509.7" font-size="19.7" text-anchor="middle" stroke="#000" stroke-width="0.22">Mettl14</text>
<text x="160.8" y="775.5" font-size="19.7" text-anchor="middle" stroke="#000" stroke-width="0.22">Hakai</text>
<path d="M159.4,638.9 L241.7,638.9 A82.3,82.3 0 0 0 227.47,592.64 Z" fill="#f58ca2" stroke="#fff" stroke-width="1.1" stroke-linejoin="round"/>
<line x1="238.35" y1="614.61" x2="242.39" y2="613.37" stroke="#000" stroke-width="1.1"/>
<path d="M159.4,638.9 L227.47,592.64 A82.3,82.3 0 0 0 206.51,571.42 Z" fill="#c4ab38" stroke="#fff" stroke-width="1.1" stroke-linejoin="round"/>
<line x1="218.17" y1="580.86" x2="221.18" y2="577.89" stroke="#000" stroke-width="1.1"/>
<path d="M159.4,638.9 L206.51,571.42 A82.3,82.3 0 0 0 92.82,590.53 Z" fill="#30bf7e" stroke="#fff" stroke-width="1.1" stroke-linejoin="round"/>
<line x1="145.71" y1="557.44" x2="145.01" y2="553.27" stroke="#000" stroke-width="1.1"/>
<path d="M159.4,638.9 L92.82,590.53 A82.3,82.3 0 0 0 123.43,712.92 Z" fill="#00bbdd" stroke="#fff" stroke-width="1.1" stroke-linejoin="round"/>
<line x1="79.27" y1="658.94" x2="75.17" y2="659.96" stroke="#000" stroke-width="1.1"/>
<path d="M159.4,638.9 L123.43,712.92 A82.3,82.3 0 0 0 241.7,638.9 Z" fill="#cb97f1" stroke="#fff" stroke-width="1.1" stroke-linejoin="round"/>
<line x1="203.22" y1="708.92" x2="205.46" y2="712.5" stroke="#000" stroke-width="1.1"/>
<text x="249.7" y="614.9" font-size="12.1" font-weight="bold" stroke="#000" stroke-width="0.22">9.5%</text>
<text x="218.8" y="572.5" font-size="12.1" font-weight="bold" stroke="#000" stroke-width="0.22">5.8%</text>
<text x="128.3" y="548.2" font-size="12.1" font-weight="bold" stroke="#000" stroke-width="0.22">24.7%</text>
<text x="36.3" y="665.9" font-size="12.1" font-weight="bold" stroke="#000" stroke-width="0.22">27.8%</text>
<text x="199.3" y="726.1" font-size="12.1" font-weight="bold" stroke="#000" stroke-width="0.22">32.2%</text>
<path d="M453.3,637.3 L535.7,637.3 A82.4,82.4 0 0 0 523.98,594.95 Z" fill="#f58ca2" stroke="#fff" stroke-width="1.1" stroke-linejoin="round"/>
<line x1="533.01" y1="615.25" x2="537.08" y2="614.12" stroke="#000" stroke-width="1.1"/>
<path d="M453.3,637.3 L523.98,594.95 A82.4,82.4 0 0 0 511.98,579.45 Z" fill="#c4ab38" stroke="#fff" stroke-width="1.1" stroke-linejoin="round"/>
<line x1="518.68" y1="586.66" x2="522.02" y2="584.06" stroke="#000" stroke-width="1.1"/>
<path d="M453.3,637.3 L511.98,579.45 A82.4,82.4 0 0 0 394.44,579.63 Z" fill="#30bf7e" stroke="#fff" stroke-width="1.1" stroke-linejoin="round"/>
<line x1="453.17" y1="554.6" x2="453.16" y2="550.37" stroke="#000" stroke-width="1.1"/>
<path d="M453.3,637.3 L394.44,579.63 A82.4,82.4 0 0 0 412.4,708.83 Z" fill="#00bbdd" stroke="#fff" stroke-width="1.1" stroke-linejoin="round"/>
<line x1="371.39" y1="648.68" x2="367.2" y2="649.27" stroke="#000" stroke-width="1.1"/>
<path d="M453.3,637.3 L412.4,708.83 A82.4,82.4 0 0 0 535.7,637.3 Z" fill="#cb97f1" stroke="#fff" stroke-width="1.1" stroke-linejoin="round"/>
<line x1="494.8" y1="708.83" x2="496.92" y2="712.49" stroke="#000" stroke-width="1.1"/>
<text x="543" y="614.4" font-size="12.1" font-weight="bold" stroke="#000" stroke-width="0.22">8.6%</text>
<text x="523" y="579.9" font-size="12.1" font-weight="bold" stroke="#000" stroke-width="0.22">3.8%</text>
<text x="439.1" y="543.1" font-size="12.1" font-weight="bold" stroke="#000" stroke-width="0.22">25.3%</text>
<text x="325.1" y="654.3" font-size="12.1" font-weight="bold" stroke="#000" stroke-width="0.22">29.1%</text>
<text x="490.1" y="728.7" font-size="12.1" font-weight="bold" stroke="#000" stroke-width="0.22">33.3%</text>
<path d="M156.3,902.3 L238.6,902.3 A82.3,82.3 0 0 0 217.3,847.06 Z" fill="#f58ca2" stroke="#fff" stroke-width="1.1" stroke-linejoin="round"/>
<line x1="233.37" y1="872.59" x2="237.32" y2="871.07" stroke="#000" stroke-width="1.1"/>
<path d="M156.3,902.3 L217.3,847.06 A82.3,82.3 0 0 0 194.96,829.65 Z" fill="#c4ab38" stroke="#fff" stroke-width="1.1" stroke-linejoin="round"/>
<line x1="207.07" y1="837.15" x2="209.67" y2="833.81" stroke="#000" stroke-width="1.1"/>
<path d="M156.3,902.3 L194.96,829.65 A82.3,82.3 0 0 0 92.11,850.8 Z" fill="#30bf7e" stroke="#fff" stroke-width="1.1" stroke-linejoin="round"/>
<line x1="139.66" y1="821.39" x2="138.81" y2="817.25" stroke="#000" stroke-width="1.1"/>
<path d="M156.3,902.3 L92.11,850.8 A82.3,82.3 0 0 0 116.5,974.34 Z" fill="#00bbdd" stroke="#fff" stroke-width="1.1" stroke-linejoin="round"/>
<line x1="75.27" y1="918.3" x2="71.12" y2="919.12" stroke="#000" stroke-width="1.1"/>
<path d="M156.3,902.3 L116.5,974.34 A82.3,82.3 0 0 0 238.6,902.3 Z" fill="#cb97f1" stroke="#fff" stroke-width="1.1" stroke-linejoin="round"/>
<line x1="198.27" y1="973.44" x2="200.42" y2="977.08" stroke="#000" stroke-width="1.1"/>
<text x="243.5" y="869.3" font-size="12.1" font-weight="bold" stroke="#000" stroke-width="0.22">11.7%</text>
<text x="209.8" y="826.2" font-size="12.1" font-weight="bold" stroke="#000" stroke-width="0.22">5.5%</text>
<text x="126.3" y="807.9" font-size="12.1" font-weight="bold" stroke="#000" stroke-width="0.22">22%</text>
<text x="28" y="923.7" font-size="12.1" font-weight="bold" stroke="#000" stroke-width="0.22">27.7%</text>
<text x="199.9" y="991.4" font-size="12.1" font-weight="bold" stroke="#000" stroke-width="0.22">33%</text>
<rect x="393.1" y="853.9" width="9.5" height="7.4" fill="#f58ca2"/>
<text x="416.8" y="862.52" font-size="14.7" font-weight="bold" stroke="#000" stroke-width="0.22">5'_utr</text>
<rect x="393.1" y="871.9" width="9.5" height="7.4" fill="#c4ab38"/>
<text x="416.8" y="880.52" font-size="14.7" font-weight="bold" stroke="#000" stroke-width="0.22">start_codon</text>
<rect x="393.1" y="889.6" width="9.5" height="7.4" fill="#30bf7e"/>
<text x="416.8" y="898.22" font-size="14.7" font-weight="bold" stroke="#000" stroke-width="0.22">CDS</text>
<rect x="393.1" y="907.4" width="9.5" height="7.4" fill="#00bbdd"/>
<text x="416.8" y="916.02" font-size="14.7" font-weight="bold" stroke="#000" stroke-width="0.22">stop_codon</text>
<rect x="393.1" y="925.2" width="9.5" height="7.4" fill="#cb97f1"/>
<text x="416.8" y="933.82" font-size="14.7" font-weight="bold" stroke="#000" stroke-width="0.22">3'_utr</text>
<text x="624.3" y="492" font-size="38.5" font-weight="bold" stroke="#000" stroke-width="0.22">e</text>
<clipPath id="eclip"><rect x="702.5" y="563.4" width="530.1" height="366"/></clipPath>
<g clip-path="url(#eclip)">
<polyline points="702.5,912.5 703.77,912.5 705.03,912.5 706.3,912.5 707.56,912.5 708.83,912.5 710.09,912.5 711.36,912.5 712.62,912.5 713.89,912.5 715.15,912.5 716.42,912.5 717.68,912.5 718.95,912.5 720.21,912.5 721.48,912.5 722.74,912.5 724.01,912.5 725.27,912.5 726.54,912.5 727.8,912.5 729.07,912.5 730.33,912.5 731.6,912.5 732.86,912.48 734.13,912.46 735.39,912.41 736.66,912.34 737.92,912.24 739.19,912.1 740.45,911.91 741.72,911.68 742.98,911.4 744.25,911.06 745.52,910.67 746.78,910.21 748.05,909.69 749.31,909.1 750.58,908.44 751.84,907.72 753.11,906.92 754.37,906.06 755.64,905.12 756.9,904.11 758.17,903.03 759.43,901.88 760.7,900.66 761.96,899.38 763.23,898.02 764.49,896.6 765.76,895.11 767.02,893.56 768.29,891.94 769.55,890.27 770.82,888.54 772.08,886.76 773.35,884.92 774.61,883.02 775.88,881.08 777.14,879.1 778.41,877.06 779.67,874.99 780.94,872.87 782.2,870.72 783.47,868.53 784.74,866.31 786,864.05 787.27,861.77 788.53,859.46 789.8,857.12 791.06,854.76 792.33,852.38 793.59,849.98 794.86,847.56 796.12,845.13 797.39,842.69 798.65,840.23 799.92,837.76 801.18,835.29 802.45,832.8 803.71,830.31 804.98,827.82 806.24,825.32 807.51,822.82 808.77,820.32 810.04,817.82 811.3,815.32 812.57,812.82 813.83,810.32 815.1,807.83 816.36,805.34 817.63,802.86 818.89,800.39 820.16,797.92 821.42,795.46 822.69,793 823.95,790.56 825.22,788.12 826.49,785.69 827.75,783.27 829.02,780.86 830.28,778.46 831.55,776.08 832.81,773.7 834.08,771.33 835.34,768.97 836.61,766.63 837.87,764.3 839.14,761.97 840.4,759.66 841.67,757.36 842.93,755.08 844.2,752.8 845.46,750.54 846.73,748.29 847.99,746.05 849.26,743.82 850.52,741.61 851.79,739.41 853.05,737.22 854.32,735.04 855.58,732.88 856.85,730.73 858.11,728.59 859.38,726.47 860.64,724.35 861.91,722.26 863.17,720.17 864.44,718.1 865.71,716.04 866.97,713.99 868.24,711.96 869.5,709.94 870.77,707.94 872.03,705.95 873.3,703.97 874.56,702.01 875.83,700.06 877.09,698.13 878.36,696.21 879.62,694.31 880.89,692.42 882.15,690.54 883.42,688.69 884.68,686.84 885.95,685.02 887.21,683.2 888.48,681.41 889.74,679.63 891.01,677.87 892.27,676.12 893.54,674.39 894.8,672.67 896.07,670.98 897.33,669.3 898.6,667.64 899.86,665.99 901.13,664.36 902.39,662.75 903.66,661.16 904.92,659.59 906.19,658.03 907.46,656.49 908.72,654.97 909.99,653.47 911.25,651.98 912.52,650.52 913.78,649.07 915.05,647.64 916.31,646.24 917.58,644.84 918.84,643.47 920.11,642.12 921.37,640.79 922.64,639.47 923.9,638.17 925.17,636.9 926.43,635.64 927.7,634.4 928.96,633.18 930.23,631.98 931.49,630.79 932.76,629.63 934.02,628.48 935.29,627.36 936.55,626.25 937.82,625.16 939.08,624.09 940.35,623.04 941.61,622 942.88,620.99 944.14,619.99 945.41,619.01 946.67,618.05 947.94,617.11 949.21,616.18 950.47,615.27 951.74,614.38 953,613.51 954.27,612.65 955.53,611.81 956.8,610.99 958.06,610.18 959.33,609.39 960.59,608.62 961.86,607.86 963.12,607.12 964.39,606.39 965.65,605.68 966.92,604.99 968.18,604.31 969.45,603.64 970.71,602.99 971.98,602.36 973.24,601.74 974.51,601.13 975.77,600.54 977.04,599.96 978.3,599.39 979.57,598.84 980.83,598.3 982.1,597.77 983.36,597.26 984.63,596.76 985.89,596.27 987.16,595.79 988.43,595.33 989.69,594.87 990.96,594.43 992.22,594 993.49,593.58 994.75,593.17 996.02,592.77 997.28,592.38 998.55,592.01 999.81,591.64 1001.08,591.28 1002.34,590.93 1003.61,590.59 1004.87,590.26 1006.14,589.94 1007.4,589.63 1008.67,589.32 1009.93,589.03 1011.2,588.74 1012.46,588.46 1013.73,588.19 1014.99,587.93 1016.26,587.67 1017.52,587.42 1018.79,587.18 1020.05,586.94 1021.32,586.72 1022.58,586.5 1023.85,586.28 1025.11,586.07 1026.38,585.87 1027.64,585.67 1028.91,585.48 1030.18,585.3 1031.44,585.12 1032.71,584.95 1033.97,584.78 1035.24,584.61 1036.5,584.45 1037.77,584.3 1039.03,584.15 1040.3,584.01 1041.56,583.87 1042.83,583.73 1044.09,583.6 1045.36,583.48 1046.62,583.35 1047.89,583.23 1049.15,583.12 1050.42,583.01 1051.68,582.9 1052.95,582.79 1054.21,582.69 1055.48,582.6 1056.74,582.5 1058.01,582.41 1059.27,582.32 1060.54,582.24 1061.8,582.15 1063.07,582.07 1064.33,582 1065.6,581.92 1066.86,581.85 1068.13,581.78 1069.39,581.71 1070.66,581.65 1071.93,581.58 1073.19,581.52 1074.46,581.46 1075.72,581.41 1076.99,581.35 1078.25,581.3 1079.52,581.25 1080.78,581.2 1082.05,581.15 1083.31,581.11 1084.58,581.06 1085.84,581.02 1087.11,580.98 1088.37,580.94 1089.64,580.9 1090.9,580.86 1092.17,580.83 1093.43,580.79 1094.7,580.76 1095.96,580.73 1097.23,580.7 1098.49,580.67 1099.76,580.64 1101.02,580.61 1102.29,580.58 1103.55,580.56 1104.82,580.53 1106.08,580.51 1107.35,580.49 1108.61,580.46 1109.88,580.44 1111.15,580.42 1112.41,580.4 1113.68,580.38 1114.94,580.36 1116.21,580.35 1117.47,580.33 1118.74,580.31 1120,580.3 1121.27,580.28 1122.53,580.27 1123.8,580.25 1125.06,580.24 1126.33,580.23 1127.59,580.21 1128.86,580.2 1130.12,580.19 1131.39,580.18 1132.65,580.17 1133.92,580.16 1135.18,580.15 1136.45,580.14 1137.71,580.13 1138.98,580.12 1140.24,580.11 1141.51,580.1 1142.77,580.1 1144.04,580.09 1145.3,580.08 1146.57,580.07 1147.83,580.07 1149.1,580.06 1150.36,580.05 1151.63,580.05 1152.9,580.04 1154.16,580.04 1155.43,580.03 1156.69,580.03 1157.96,580.02 1159.22,580.02 1160.49,580.01 1161.75,580.01 1163.02,580 1164.28,580 1165.55,579.99 1166.81,579.99 1168.08,579.99 1169.34,579.98 1170.61,579.98 1171.87,579.98 1173.14,579.97 1174.4,579.97 1175.67,579.97 1176.93,579.97 1178.2,579.96 1179.46,579.96 1180.73,579.96 1181.99,579.96 1183.26,579.95 1184.52,579.95 1185.79,579.95 1187.05,579.95 1188.32,579.95 1189.58,579.94 1190.85,579.94 1192.12,579.94 1193.38,579.94 1194.65,579.94 1195.91,579.94 1197.18,579.93 1198.44,579.93 1199.71,579.93 1200.97,579.93 1202.24,579.93 1203.5,579.93 1204.77,579.93 1206.03,579.93 1207.3,579.92 1208.56,579.92 1209.83,579.92 1211.09,579.92 1212.36,579.92 1213.62,579.92 1214.89,579.92 1216.15,579.92 1217.42,579.92 1218.68,579.92 1219.95,579.92 1221.21,579.92 1222.48,579.92 1223.74,579.91 1225.01,579.91 1226.27,579.91 1227.54,579.91 1228.8,579.91 1230.07,579.91 1231.33,579.91 1232.6,579.91" fill="none" stroke="#f8766d" stroke-width="1.7" stroke-linejoin="round"/>
<polyline points="702.5,912.5 703.77,912.5 705.03,912.5 706.3,912.5 707.56,912.5 708.83,912.5 710.09,912.5 711.36,912.5 712.62,912.5 713.89,912.5 715.15,912.5 716.42,912.5 717.68,912.5 718.95,912.5 720.21,912.5 721.48,912.5 722.74,912.5 724.01,912.5 725.27,912.5 726.54,912.5 727.8,912.5 729.07,912.49 730.33,912.47 731.6,912.43 732.86,912.38 734.13,912.3 735.39,912.19 736.66,912.05 737.92,911.87 739.19,911.64 740.45,911.37 741.72,911.05 742.98,910.68 744.25,910.25 745.52,909.75 746.78,909.2 748.05,908.58 749.31,907.9 750.58,907.15 751.84,906.34 753.11,905.45 754.37,904.5 755.64,903.47 756.9,902.38 758.17,901.22 759.43,899.99 760.7,898.69 761.96,897.33 763.23,895.9 764.49,894.41 765.76,892.85 767.02,891.24 768.29,889.56 769.55,887.83 770.82,886.04 772.08,884.2 773.35,882.31 774.61,880.36 775.88,878.37 777.14,876.34 778.41,874.26 779.67,872.14 780.94,869.98 782.2,867.78 783.47,865.55 784.74,863.29 786,861 787.27,858.67 788.53,856.33 789.8,853.95 791.06,851.56 792.33,849.14 793.59,846.7 794.86,844.25 796.12,841.78 797.39,839.3 798.65,836.81 799.92,834.3 801.18,831.79 802.45,829.26 803.71,826.73 804.98,824.19 806.24,821.65 807.51,819.11 808.77,816.56 810.04,814.02 811.3,811.47 812.57,808.92 813.83,806.37 815.1,803.83 816.36,801.29 817.63,798.75 818.89,796.22 820.16,793.69 821.42,791.16 822.69,788.64 823.95,786.13 825.22,783.63 826.49,781.13 827.75,778.64 829.02,776.16 830.28,773.69 831.55,771.22 832.81,768.77 834.08,766.32 835.34,763.88 836.61,761.46 837.87,759.04 839.14,756.64 840.4,754.24 841.67,751.86 842.93,749.49 844.2,747.12 845.46,744.78 846.73,742.44 847.99,740.11 849.26,737.8 850.52,735.5 851.79,733.21 853.05,730.93 854.32,728.67 855.58,726.42 856.85,724.19 858.11,721.97 859.38,719.76 860.64,717.57 861.91,715.39 863.17,713.23 864.44,711.08 865.71,708.95 866.97,706.83 868.24,704.73 869.5,702.64 870.77,700.57 872.03,698.51 873.3,696.48 874.56,694.46 875.83,692.45 877.09,690.47 878.36,688.5 879.62,686.55 880.89,684.61 882.15,682.7 883.42,680.8 884.68,678.93 885.95,677.07 887.21,675.23 888.48,673.41 889.74,671.6 891.01,669.82 892.27,668.06 893.54,666.32 894.8,664.59 896.07,662.89 897.33,661.21 898.6,659.55 899.86,657.91 901.13,656.29 902.39,654.69 903.66,653.11 904.92,651.55 906.19,650.02 907.46,648.5 908.72,647.01 909.99,645.53 911.25,644.08 912.52,642.65 913.78,641.24 915.05,639.86 916.31,638.49 917.58,637.15 918.84,635.82 920.11,634.52 921.37,633.24 922.64,631.98 923.9,630.74 925.17,629.52 926.43,628.33 927.7,627.15 928.96,626 930.23,624.86 931.49,623.75 932.76,622.66 934.02,621.58 935.29,620.53 936.55,619.5 937.82,618.49 939.08,617.49 940.35,616.52 941.61,615.57 942.88,614.63 944.14,613.71 945.41,612.82 946.67,611.94 947.94,611.08 949.21,610.24 950.47,609.42 951.74,608.61 953,607.82 954.27,607.05 955.53,606.3 956.8,605.56 958.06,604.84 959.33,604.14 960.59,603.45 961.86,602.78 963.12,602.13 964.39,601.49 965.65,600.86 966.92,600.25 968.18,599.66 969.45,599.08 970.71,598.51 971.98,597.96 973.24,597.42 974.51,596.9 975.77,596.39 977.04,595.89 978.3,595.41 979.57,594.93 980.83,594.47 982.1,594.03 983.36,593.59 984.63,593.17 985.89,592.75 987.16,592.35 988.43,591.96 989.69,591.58 990.96,591.21 992.22,590.85 993.49,590.5 994.75,590.16 996.02,589.83 997.28,589.51 998.55,589.2 999.81,588.9 1001.08,588.61 1002.34,588.32 1003.61,588.04 1004.87,587.78 1006.14,587.51 1007.4,587.26 1008.67,587.02 1009.93,586.78 1011.2,586.55 1012.46,586.32 1013.73,586.11 1014.99,585.9 1016.26,585.69 1017.52,585.49 1018.79,585.3 1020.05,585.12 1021.32,584.94 1022.58,584.76 1023.85,584.6 1025.11,584.43 1026.38,584.27 1027.64,584.12 1028.91,583.97 1030.18,583.83 1031.44,583.69 1032.71,583.56 1033.97,583.43 1035.24,583.3 1036.5,583.18 1037.77,583.06 1039.03,582.95 1040.3,582.84 1041.56,582.73 1042.83,582.63 1044.09,582.53 1045.36,582.44 1046.62,582.34 1047.89,582.25 1049.15,582.17 1050.42,582.09 1051.68,582.01 1052.95,581.93 1054.21,581.85 1055.48,581.78 1056.74,581.71 1058.01,581.64 1059.27,581.58 1060.54,581.52 1061.8,581.45 1063.07,581.4 1064.33,581.34 1065.6,581.29 1066.86,581.23 1068.13,581.18 1069.39,581.13 1070.66,581.09 1071.93,581.04 1073.19,581 1074.46,580.96 1075.72,580.92 1076.99,580.88 1078.25,580.84 1079.52,580.8 1080.78,580.77 1082.05,580.73 1083.31,580.7 1084.58,580.67 1085.84,580.64 1087.11,580.61 1088.37,580.58 1089.64,580.56 1090.9,580.53 1092.17,580.51 1093.43,580.48 1094.7,580.46 1095.96,580.44 1097.23,580.42 1098.49,580.4 1099.76,580.38 1101.02,580.36 1102.29,580.34 1103.55,580.32 1104.82,580.31 1106.08,580.29 1107.35,580.27 1108.61,580.26 1109.88,580.24 1111.15,580.23 1112.41,580.22 1113.68,580.2 1114.94,580.19 1116.21,580.18 1117.47,580.17 1118.74,580.16 1120,580.15 1121.27,580.14 1122.53,580.13 1123.8,580.12 1125.06,580.11 1126.33,580.1 1127.59,580.09 1128.86,580.09 1130.12,580.08 1131.39,580.07 1132.65,580.06 1133.92,580.06 1135.18,580.05 1136.45,580.04 1137.71,580.04 1138.98,580.03 1140.24,580.03 1141.51,580.02 1142.77,580.02 1144.04,580.01 1145.3,580.01 1146.57,580 1147.83,580 1149.1,579.99 1150.36,579.99 1151.63,579.99 1152.9,579.98 1154.16,579.98 1155.43,579.98 1156.69,579.97 1157.96,579.97 1159.22,579.97 1160.49,579.96 1161.75,579.96 1163.02,579.96 1164.28,579.96 1165.55,579.95 1166.81,579.95 1168.08,579.95 1169.34,579.95 1170.61,579.95 1171.87,579.94 1173.14,579.94 1174.4,579.94 1175.67,579.94 1176.93,579.94 1178.2,579.94 1179.46,579.93 1180.73,579.93 1181.99,579.93 1183.26,579.93 1184.52,579.93 1185.79,579.93 1187.05,579.93 1188.32,579.93 1189.58,579.92 1190.85,579.92 1192.12,579.92 1193.38,579.92 1194.65,579.92 1195.91,579.92 1197.18,579.92 1198.44,579.92 1199.71,579.92 1200.97,579.92 1202.24,579.92 1203.5,579.91 1204.77,579.91 1206.03,579.91 1207.3,579.91 1208.56,579.91 1209.83,579.91 1211.09,579.91 1212.36,579.91 1213.62,579.91 1214.89,579.91 1216.15,579.91 1217.42,579.91 1218.68,579.91 1219.95,579.91 1221.21,579.91 1222.48,579.91 1223.74,579.91 1225.01,579.91 1226.27,579.91 1227.54,579.91 1228.8,579.91 1230.07,579.91 1231.33,579.91 1232.6,579.91" fill="none" stroke="#7cae00" stroke-width="1.7" stroke-linejoin="round"/>
<polyline points="702.5,912.5 703.77,912.5 705.03,912.5 706.3,912.5 707.56,912.5 708.83,912.5 710.09,912.5 711.36,912.5 712.62,912.5 713.89,912.5 715.15,912.5 716.42,912.5 717.68,912.5 718.95,912.5 720.21,912.5 721.48,912.5 722.74,912.5 724.01,912.5 725.27,912.5 726.54,912.5 727.8,912.5 729.07,912.5 730.33,912.5 731.6,912.5 732.86,912.5 734.13,912.5 735.39,912.5 736.66,912.5 737.92,912.44 739.19,912.12 740.45,911.58 741.72,910.86 742.98,909.98 744.25,908.96 745.52,907.81 746.78,906.55 748.05,905.19 749.31,903.74 750.58,902.21 751.84,900.6 753.11,898.93 754.37,897.2 755.64,895.42 756.9,893.58 758.17,891.7 759.43,889.79 760.7,887.83 761.96,885.85 763.23,883.83 764.49,881.78 765.76,879.71 767.02,877.61 768.29,875.5 769.55,873.36 770.82,871.2 772.08,869.02 773.35,866.82 774.61,864.61 775.88,862.38 777.14,860.13 778.41,857.86 779.67,855.58 780.94,853.29 782.2,850.97 783.47,848.65 784.74,846.3 786,843.94 787.27,841.57 788.53,839.18 789.8,836.77 791.06,834.35 792.33,831.92 793.59,829.47 794.86,827.01 796.12,824.53 797.39,822.04 798.65,819.53 799.92,817.01 801.18,814.48 802.45,811.93 803.71,809.37 804.98,806.81 806.24,804.23 807.51,801.63 808.77,799.03 810.04,796.42 811.3,793.81 812.57,791.18 813.83,788.55 815.1,785.91 816.36,783.26 817.63,780.61 818.89,777.96 820.16,775.3 821.42,772.64 822.69,769.98 823.95,767.33 825.22,764.67 826.49,762.01 827.75,759.36 829.02,756.71 830.28,754.06 831.55,751.42 832.81,748.79 834.08,746.16 835.34,743.55 836.61,740.94 837.87,738.34 839.14,735.76 840.4,733.18 841.67,730.62 842.93,728.07 844.2,725.54 845.46,723.03 846.73,720.53 847.99,718.04 849.26,715.58 850.52,713.13 851.79,710.7 853.05,708.3 854.32,705.91 855.58,703.54 856.85,701.2 858.11,698.88 859.38,696.58 860.64,694.31 861.91,692.06 863.17,689.83 864.44,687.63 865.71,685.45 866.97,683.3 868.24,681.18 869.5,679.08 870.77,677.01 872.03,674.97 873.3,672.95 874.56,670.96 875.83,669 877.09,667.06 878.36,665.16 879.62,663.28 880.89,661.43 882.15,659.61 883.42,657.81 884.68,656.05 885.95,654.31 887.21,652.6 888.48,650.92 889.74,649.27 891.01,647.64 892.27,646.05 893.54,644.48 894.8,642.94 896.07,641.42 897.33,639.94 898.6,638.48 899.86,637.05 901.13,635.65 902.39,634.27 903.66,632.92 904.92,631.6 906.19,630.3 907.46,629.03 908.72,627.78 909.99,626.56 911.25,625.36 912.52,624.19 913.78,623.05 915.05,621.93 916.31,620.83 917.58,619.75 918.84,618.7 920.11,617.68 921.37,616.67 922.64,615.69 923.9,614.73 925.17,613.79 926.43,612.87 927.7,611.97 928.96,611.1 930.23,610.24 931.49,609.41 932.76,608.59 934.02,607.8 935.29,607.02 936.55,606.26 937.82,605.52 939.08,604.8 940.35,604.1 941.61,603.41 942.88,602.74 944.14,602.09 945.41,601.45 946.67,600.83 947.94,600.23 949.21,599.64 950.47,599.07 951.74,598.51 953,597.97 954.27,597.44 955.53,596.92 956.8,596.42 958.06,595.93 959.33,595.45 960.59,594.99 961.86,594.54 963.12,594.1 964.39,593.67 965.65,593.26 966.92,592.86 968.18,592.46 969.45,592.08 970.71,591.71 971.98,591.35 973.24,591 974.51,590.66 975.77,590.33 977.04,590.01 978.3,589.7 979.57,589.39 980.83,589.1 982.1,588.81 983.36,588.53 984.63,588.26 985.89,588 987.16,587.75 988.43,587.5 989.69,587.26 990.96,587.03 992.22,586.8 993.49,586.58 994.75,586.37 996.02,586.16 997.28,585.96 998.55,585.77 999.81,585.58 1001.08,585.4 1002.34,585.22 1003.61,585.05 1004.87,584.88 1006.14,584.72 1007.4,584.57 1008.67,584.42 1009.93,584.27 1011.2,584.13 1012.46,583.99 1013.73,583.85 1014.99,583.73 1016.26,583.6 1017.52,583.48 1018.79,583.36 1020.05,583.25 1021.32,583.14 1022.58,583.03 1023.85,582.93 1025.11,582.83 1026.38,582.73 1027.64,582.63 1028.91,582.54 1030.18,582.45 1031.44,582.37 1032.71,582.29 1033.97,582.21 1035.24,582.13 1036.5,582.05 1037.77,581.98 1039.03,581.91 1040.3,581.84 1041.56,581.78 1042.83,581.72 1044.09,581.65 1045.36,581.6 1046.62,581.54 1047.89,581.48 1049.15,581.43 1050.42,581.38 1051.68,581.33 1052.95,581.28 1054.21,581.23 1055.48,581.19 1056.74,581.14 1058.01,581.1 1059.27,581.06 1060.54,581.02 1061.8,580.98 1063.07,580.94 1064.33,580.91 1065.6,580.87 1066.86,580.84 1068.13,580.81 1069.39,580.78 1070.66,580.75 1071.93,580.72 1073.19,580.69 1074.46,580.66 1075.72,580.63 1076.99,580.61 1078.25,580.58 1079.52,580.56 1080.78,580.54 1082.05,580.52 1083.31,580.49 1084.58,580.47 1085.84,580.45 1087.11,580.43 1088.37,580.42 1089.64,580.4 1090.9,580.38 1092.17,580.36 1093.43,580.35 1094.7,580.33 1095.96,580.32 1097.23,580.3 1098.49,580.29 1099.76,580.27 1101.02,580.26 1102.29,580.25 1103.55,580.24 1104.82,580.23 1106.08,580.21 1107.35,580.2 1108.61,580.19 1109.88,580.18 1111.15,580.17 1112.41,580.16 1113.68,580.15 1114.94,580.14 1116.21,580.14 1117.47,580.13 1118.74,580.12 1120,580.11 1121.27,580.1 1122.53,580.1 1123.8,580.09 1125.06,580.08 1126.33,580.08 1127.59,580.07 1128.86,580.07 1130.12,580.06 1131.39,580.05 1132.65,580.05 1133.92,580.04 1135.18,580.04 1136.45,580.03 1137.71,580.03 1138.98,580.02 1140.24,580.02 1141.51,580.02 1142.77,580.01 1144.04,580.01 1145.3,580 1146.57,580 1147.83,580 1149.1,579.99 1150.36,579.99 1151.63,579.99 1152.9,579.98 1154.16,579.98 1155.43,579.98 1156.69,579.98 1157.96,579.97 1159.22,579.97 1160.49,579.97 1161.75,579.97 1163.02,579.96 1164.28,579.96 1165.55,579.96 1166.81,579.96 1168.08,579.95 1169.34,579.95 1170.61,579.95 1171.87,579.95 1173.14,579.95 1174.4,579.95 1175.67,579.94 1176.93,579.94 1178.2,579.94 1179.46,579.94 1180.73,579.94 1181.99,579.94 1183.26,579.94 1184.52,579.93 1185.79,579.93 1187.05,579.93 1188.32,579.93 1189.58,579.93 1190.85,579.93 1192.12,579.93 1193.38,579.93 1194.65,579.93 1195.91,579.93 1197.18,579.92 1198.44,579.92 1199.71,579.92 1200.97,579.92 1202.24,579.92 1203.5,579.92 1204.77,579.92 1206.03,579.92 1207.3,579.92 1208.56,579.92 1209.83,579.92 1211.09,579.92 1212.36,579.92 1213.62,579.92 1214.89,579.91 1216.15,579.91 1217.42,579.91 1218.68,579.91 1219.95,579.91 1221.21,579.91 1222.48,579.91 1223.74,579.91 1225.01,579.91 1226.27,579.91 1227.54,579.91 1228.8,579.91 1230.07,579.91 1231.33,579.91 1232.6,579.91" fill="none" stroke="#00bfc4" stroke-width="1.7" stroke-linejoin="round"/>
<polyline points="702.5,912.5 703.77,912.5 705.03,912.5 706.3,912.5 707.56,912.5 708.83,912.5 710.09,912.5 711.36,912.5 712.62,912.5 713.89,912.5 715.15,912.5 716.42,912.5 717.68,912.5 718.95,912.5 720.21,912.5 721.48,912.5 722.74,912.5 724.01,912.5 725.27,912.5 726.54,912.5 727.8,912.5 729.07,912.5 730.33,912.5 731.6,912.5 732.86,912.5 734.13,912.5 735.39,912.5 736.66,912.5 737.92,912.5 739.19,912.5 740.45,912.5 741.72,912.5 742.98,912.46 744.25,912.36 745.52,912.19 746.78,911.93 748.05,911.59 749.31,911.15 750.58,910.63 751.84,910.02 753.11,909.31 754.37,908.53 755.64,907.65 756.9,906.7 758.17,905.66 759.43,904.55 760.7,903.37 761.96,902.11 763.23,900.79 764.49,899.4 765.76,897.96 767.02,896.46 768.29,894.9 769.55,893.29 770.82,891.64 772.08,889.94 773.35,888.19 774.61,886.41 775.88,884.59 777.14,882.73 778.41,880.84 779.67,878.92 780.94,876.98 782.2,875 783.47,873 784.74,870.98 786,868.94 787.27,866.88 788.53,864.8 789.8,862.7 791.06,860.58 792.33,858.45 793.59,856.31 794.86,854.15 796.12,851.98 797.39,849.8 798.65,847.61 799.92,845.41 801.18,843.2 802.45,840.98 803.71,838.75 804.98,836.52 806.24,834.28 807.51,832.03 808.77,829.78 810.04,827.52 811.3,825.25 812.57,822.98 813.83,820.71 815.1,818.43 816.36,816.14 817.63,813.85 818.89,811.56 820.16,809.27 821.42,806.97 822.69,804.67 823.95,802.37 825.22,800.07 826.49,797.76 827.75,795.45 829.02,793.15 830.28,790.84 831.55,788.53 832.81,786.22 834.08,783.91 835.34,781.6 836.61,779.29 837.87,776.99 839.14,774.68 840.4,772.38 841.67,770.08 842.93,767.79 844.2,765.49 845.46,763.21 846.73,760.92 847.99,758.64 849.26,756.36 850.52,754.09 851.79,751.83 853.05,749.57 854.32,747.32 855.58,745.08 856.85,742.84 858.11,740.61 859.38,738.4 860.64,736.18 861.91,733.98 863.17,731.79 864.44,729.61 865.71,727.44 866.97,725.28 868.24,723.14 869.5,721 870.77,718.88 872.03,716.77 873.3,714.67 874.56,712.59 875.83,710.52 877.09,708.46 878.36,706.42 879.62,704.39 880.89,702.38 882.15,700.39 883.42,698.41 884.68,696.45 885.95,694.5 887.21,692.57 888.48,690.66 889.74,688.77 891.01,686.89 892.27,685.03 893.54,683.19 894.8,681.37 896.07,679.57 897.33,677.78 898.6,676.02 899.86,674.27 901.13,672.55 902.39,670.84 903.66,669.15 904.92,667.48 906.19,665.84 907.46,664.21 908.72,662.6 909.99,661.01 911.25,659.45 912.52,657.9 913.78,656.37 915.05,654.86 916.31,653.38 917.58,651.91 918.84,650.47 920.11,649.04 921.37,647.64 922.64,646.25 923.9,644.89 925.17,643.55 926.43,642.22 927.7,640.92 928.96,639.64 930.23,638.37 931.49,637.13 932.76,635.91 934.02,634.7 935.29,633.52 936.55,632.35 937.82,631.21 939.08,630.08 940.35,628.97 941.61,627.89 942.88,626.82 944.14,625.77 945.41,624.73 946.67,623.72 947.94,622.73 949.21,621.75 950.47,620.79 951.74,619.85 953,618.92 954.27,618.02 955.53,617.13 956.8,616.25 958.06,615.4 959.33,614.56 960.59,613.73 961.86,612.93 963.12,612.14 964.39,611.36 965.65,610.6 966.92,609.86 968.18,609.13 969.45,608.41 970.71,607.71 971.98,607.03 973.24,606.36 974.51,605.7 975.77,605.06 977.04,604.43 978.3,603.81 979.57,603.21 980.83,602.62 982.1,602.05 983.36,601.48 984.63,600.93 985.89,600.39 987.16,599.86 988.43,599.35 989.69,598.84 990.96,598.35 992.22,597.87 993.49,597.4 994.75,596.94 996.02,596.49 997.28,596.06 998.55,595.63 999.81,595.21 1001.08,594.8 1002.34,594.4 1003.61,594.01 1004.87,593.63 1006.14,593.26 1007.4,592.9 1008.67,592.55 1009.93,592.21 1011.2,591.87 1012.46,591.54 1013.73,591.22 1014.99,590.91 1016.26,590.61 1017.52,590.31 1018.79,590.02 1020.05,589.74 1021.32,589.47 1022.58,589.2 1023.85,588.94 1025.11,588.68 1026.38,588.44 1027.64,588.2 1028.91,587.96 1030.18,587.73 1031.44,587.51 1032.71,587.29 1033.97,587.08 1035.24,586.87 1036.5,586.67 1037.77,586.48 1039.03,586.29 1040.3,586.1 1041.56,585.92 1042.83,585.75 1044.09,585.58 1045.36,585.41 1046.62,585.25 1047.89,585.09 1049.15,584.94 1050.42,584.79 1051.68,584.65 1052.95,584.51 1054.21,584.37 1055.48,584.24 1056.74,584.11 1058.01,583.98 1059.27,583.86 1060.54,583.74 1061.8,583.63 1063.07,583.52 1064.33,583.41 1065.6,583.3 1066.86,583.2 1068.13,583.1 1069.39,583 1070.66,582.91 1071.93,582.82 1073.19,582.73 1074.46,582.64 1075.72,582.56 1076.99,582.47 1078.25,582.4 1079.52,582.32 1080.78,582.24 1082.05,582.17 1083.31,582.1 1084.58,582.03 1085.84,581.97 1087.11,581.9 1088.37,581.84 1089.64,581.78 1090.9,581.72 1092.17,581.66 1093.43,581.61 1094.7,581.55 1095.96,581.5 1097.23,581.45 1098.49,581.4 1099.76,581.36 1101.02,581.31 1102.29,581.26 1103.55,581.22 1104.82,581.18 1106.08,581.14 1107.35,581.1 1108.61,581.06 1109.88,581.02 1111.15,580.99 1112.41,580.95 1113.68,580.92 1114.94,580.89 1116.21,580.85 1117.47,580.82 1118.74,580.79 1120,580.76 1121.27,580.74 1122.53,580.71 1123.8,580.68 1125.06,580.66 1126.33,580.63 1127.59,580.61 1128.86,580.59 1130.12,580.56 1131.39,580.54 1132.65,580.52 1133.92,580.5 1135.18,580.48 1136.45,580.46 1137.71,580.44 1138.98,580.42 1140.24,580.41 1141.51,580.39 1142.77,580.37 1144.04,580.36 1145.3,580.34 1146.57,580.33 1147.83,580.31 1149.1,580.3 1150.36,580.29 1151.63,580.27 1152.9,580.26 1154.16,580.25 1155.43,580.24 1156.69,580.23 1157.96,580.22 1159.22,580.2 1160.49,580.19 1161.75,580.18 1163.02,580.18 1164.28,580.17 1165.55,580.16 1166.81,580.15 1168.08,580.14 1169.34,580.13 1170.61,580.12 1171.87,580.12 1173.14,580.11 1174.4,580.1 1175.67,580.09 1176.93,580.09 1178.2,580.08 1179.46,580.08 1180.73,580.07 1181.99,580.06 1183.26,580.06 1184.52,580.05 1185.79,580.05 1187.05,580.04 1188.32,580.04 1189.58,580.03 1190.85,580.03 1192.12,580.02 1193.38,580.02 1194.65,580.02 1195.91,580.01 1197.18,580.01 1198.44,580 1199.71,580 1200.97,580 1202.24,579.99 1203.5,579.99 1204.77,579.99 1206.03,579.98 1207.3,579.98 1208.56,579.98 1209.83,579.98 1211.09,579.97 1212.36,579.97 1213.62,579.97 1214.89,579.97 1216.15,579.96 1217.42,579.96 1218.68,579.96 1219.95,579.96 1221.21,579.95 1222.48,579.95 1223.74,579.95 1225.01,579.95 1226.27,579.95 1227.54,579.95 1228.8,579.94 1230.07,579.94 1231.33,579.94 1232.6,579.94" fill="none" stroke="#c77cff" stroke-width="1.7" stroke-linejoin="round"/>
</g>
<rect x="702.5" y="563.4" width="530.1" height="366" fill="none" stroke="#4a4a4a" stroke-width="1.2"/>
<text x="697" y="584" font-size="11.3" text-anchor="end" fill="#444" stroke="#444" stroke-width="0.22">1.00</text>
<line x1="699.3" y1="662.9" x2="702.5" y2="662.9" stroke="#333" stroke-width="1.1"/>
<text x="697" y="667" font-size="11.3" text-anchor="end" fill="#444" stroke="#444" stroke-width="0.22">0.75</text>
<line x1="699.3" y1="746" x2="702.5" y2="746" stroke="#333" stroke-width="1.1"/>
<text x="697" y="750.1" font-size="11.3" text-anchor="end" fill="#444" stroke="#444" stroke-width="0.22">0.50</text>
<line x1="699.3" y1="829.3" x2="702.5" y2="829.3" stroke="#333" stroke-width="1.1"/>
<text x="697" y="833.4" font-size="11.3" text-anchor="end" fill="#444" stroke="#444" stroke-width="0.22">0.25</text>
<line x1="699.3" y1="912.5" x2="702.5" y2="912.5" stroke="#333" stroke-width="1.1"/>
<text x="697" y="916.6" font-size="11.3" text-anchor="end" fill="#444" stroke="#444" stroke-width="0.22">0.00</text>
<line x1="699.3" y1="564.9" x2="702.5" y2="564.9" stroke="#222" stroke-width="1.2"/>
<line x1="725.9" y1="929.4" x2="725.9" y2="932.6" stroke="#333" stroke-width="1"/>
<text x="725.9" y="944.6" font-size="11.3" text-anchor="middle" fill="#444" stroke="#444" stroke-width="0.22">0</text>
<line x1="887" y1="929.4" x2="887" y2="932.6" stroke="#333" stroke-width="1"/>
<text x="887" y="944.6" font-size="11.3" text-anchor="middle" fill="#444" stroke="#444" stroke-width="0.22">2</text>
<line x1="1048" y1="929.4" x2="1048" y2="932.6" stroke="#333" stroke-width="1"/>
<text x="1048" y="944.6" font-size="11.3" text-anchor="middle" fill="#444" stroke="#444" stroke-width="0.22">4</text>
<line x1="1209.1" y1="929.4" x2="1209.1" y2="932.6" stroke="#333" stroke-width="1"/>
<text x="1209.1" y="944.6" font-size="11.3" text-anchor="middle" fill="#444" stroke="#444" stroke-width="0.22">6</text>
<text x="959.3" y="969.2" font-size="22" text-anchor="middle" stroke="#000" stroke-width="0.22">Log2 fold enrichment (m<tspan font-size="13.2" dy="-7.92">6</tspan><tspan dy="7.92">A</tspan>-IP/input)</text>
<text x="665" y="735.4" font-size="22" text-anchor="middle" transform="rotate(-90 665 735.4)" stroke="#000" stroke-width="0.22">m<tspan font-size="13.2" dy="-7.92">6</tspan><tspan dy="7.92">A</tspan> peaks cumulative percent</text>
<line x1="1115.7" y1="714.7" x2="1138.4" y2="714.7" stroke="#f8766d" stroke-width="1.7"/>
<text x="1150.9" y="721.3" font-size="19.5" stroke="#000" stroke-width="0.22">Hakai</text>
<line x1="1115.7" y1="742.8" x2="1138.4" y2="742.8" stroke="#7cae00" stroke-width="1.7"/>
<text x="1150.9" y="749.4" font-size="19.5" stroke="#000" stroke-width="0.22">Mettl14</text>
<line x1="1115.7" y1="771.3" x2="1138.4" y2="771.3" stroke="#00bfc4" stroke-width="1.7"/>
<text x="1150.9" y="777.9" font-size="19.5" stroke="#000" stroke-width="0.22">Mettl3</text>
<line x1="1115.7" y1="799.9" x2="1138.4" y2="799.9" stroke="#c77cff" stroke-width="1.7"/>
<text x="1150.9" y="806.5" font-size="19.5" stroke="#000" stroke-width="0.22">yw</text>
<text x="1280" y="492.3" font-size="38.5" font-weight="bold" stroke="#000" stroke-width="0.22">f</text>
<text x="1377.1" y="566.1" font-size="22.2" stroke="#000" stroke-width="0.22">Number of m<tspan font-size="13.32" dy="-7.99">6</tspan><tspan dy="7.99">A</tspan> peaks (fold enrichment≥5)</text>
<rect x="1455.3" y="615.9" width="34.7" height="301.2" fill="#b3b3b3"/>
<rect x="1526.9" y="741" width="35" height="176.1" fill="#cde69a"/>
<rect x="1599.2" y="707" width="34.9" height="210.1" fill="#f7bfbf"/>
<rect x="1671.4" y="670" width="34.6" height="247.1" fill="#b3caf5"/>
<line x1="1436.2" y1="610.4" x2="1436.2" y2="917.7" stroke="#000" stroke-width="1.3"/>
<line x1="1435.6" y1="917.1" x2="1725.8" y2="917.1" stroke="#000" stroke-width="1.3"/>
<text x="1432" y="922" font-size="12.5" text-anchor="end" fill="#111" font-family="'Liberation Serif', serif" stroke="#111" stroke-width="0.22">0</text>
<line x1="1436.2" y1="886.49" x2="1443.8" y2="886.49" stroke="#000" stroke-width="1.2"/>
<line x1="1436.2" y1="855.88" x2="1443.8" y2="855.88" stroke="#000" stroke-width="1.2"/>
<text x="1432" y="860.78" font-size="12.5" text-anchor="end" fill="#111" font-family="'Liberation Serif', serif" stroke="#111" stroke-width="0.22">1000</text>
<line x1="1436.2" y1="825.27" x2="1443.8" y2="825.27" stroke="#000" stroke-width="1.2"/>
<line x1="1436.2" y1="794.66" x2="1443.8" y2="794.66" stroke="#000" stroke-width="1.2"/>
<text x="1432" y="799.56" font-size="12.5" text-anchor="end" fill="#111" font-family="'Liberation Serif', serif" stroke="#111" stroke-width="0.22">2000</text>
<line x1="1436.2" y1="764.05" x2="1443.8" y2="764.05" stroke="#000" stroke-width="1.2"/>
<line x1="1436.2" y1="733.44" x2="1443.8" y2="733.44" stroke="#000" stroke-width="1.2"/>
<text x="1432" y="738.34" font-size="12.5" text-anchor="end" fill="#111" font-family="'Liberation Serif', serif" stroke="#111" stroke-width="0.22">3000</text>
<line x1="1436.2" y1="702.83" x2="1443.8" y2="702.83" stroke="#000" stroke-width="1.2"/>
<line x1="1436.2" y1="672.22" x2="1443.8" y2="672.22" stroke="#000" stroke-width="1.2"/>
<text x="1432" y="677.12" font-size="12.5" text-anchor="end" fill="#111" font-family="'Liberation Serif', serif" stroke="#111" stroke-width="0.22">4000</text>
<line x1="1436.2" y1="641.61" x2="1443.8" y2="641.61" stroke="#000" stroke-width="1.2"/>
<line x1="1436.2" y1="611" x2="1443.8" y2="611" stroke="#000" stroke-width="1.2"/>
<text x="1432" y="615.9" font-size="12.5" text-anchor="end" fill="#111" font-family="'Liberation Serif', serif" stroke="#111" stroke-width="0.22">5000</text>
<line x1="1508.4" y1="917.1" x2="1508.4" y2="908.5" stroke="#000" stroke-width="1.2"/>
<line x1="1580.7" y1="917.1" x2="1580.7" y2="908.5" stroke="#000" stroke-width="1.2"/>
<line x1="1652.6" y1="917.1" x2="1652.6" y2="908.5" stroke="#000" stroke-width="1.2"/>
<line x1="1725.2" y1="917.1" x2="1725.2" y2="908.5" stroke="#000" stroke-width="1.2"/>
<text x="1484.2" y="942.1" font-size="20" text-anchor="end" transform="rotate(-45 1484.2 942.1)" stroke="#000" stroke-width="0.22">yw</text>
<text x="1553.4" y="942.1" font-size="20" text-anchor="end" transform="rotate(-45 1553.4 942.1)" stroke="#000" stroke-width="0.22">Mettl3</text>
<text x="1625.6" y="942.1" font-size="20" text-anchor="end" transform="rotate(-45 1625.6 942.1)" stroke="#000" stroke-width="0.22">Mettl14</text>
<text x="1696.2" y="942.1" font-size="20" text-anchor="end" transform="rotate(-45 1696.2 942.1)" stroke="#000" stroke-width="0.22">Hakai</text>
<text x="-1" y="1089" font-size="38.5" font-weight="bold" stroke="#000" stroke-width="0.22">g</text>
<text x="311" y="1120.7" font-size="22.2" text-anchor="middle" stroke="#000" stroke-width="0.22">Reduced m<tspan font-size="13.32" dy="-7.99">6</tspan><tspan dy="7.99">A</tspan> peaks</text>
<circle cx="256.6" cy="1266.1" r="100.8" fill="#6695eb" fill-opacity="0.5"/>
<circle cx="356.3" cy="1266.1" r="100.8" fill="#ef7f7f" fill-opacity="0.5"/>
<circle cx="306.4" cy="1352.1" r="100.8" fill="#9bcd35" fill-opacity="0.5"/>
<text x="145.8" y="1162" font-size="17.7" font-family="'Liberation Serif', serif" stroke="#000" stroke-width="0.22">Haikai VS yw</text>
<text x="371.2" y="1162" font-size="17.7" font-family="'Liberation Serif', serif" stroke="#000" stroke-width="0.22">Mettl14 VS yw</text>
<text x="260.6" y="1471" font-size="17.7" font-family="'Liberation Serif', serif" stroke="#000" stroke-width="0.22">Mettl3 VS yw</text>
<text x="306" y="1219.36" font-size="13.2" text-anchor="middle" font-family="'Liberation Serif', serif" stroke="#000" stroke-width="0.22">287</text>
<text x="212" y="1244.76" font-size="13.2" text-anchor="middle" font-family="'Liberation Serif', serif" stroke="#000" stroke-width="0.22">280</text>
<text x="400.4" y="1244.76" font-size="13.2" text-anchor="middle" font-family="'Liberation Serif', serif" stroke="#000" stroke-width="0.22">315</text>
<text x="306.4" y="1299.36" font-size="13.2" text-anchor="middle" font-family="'Liberation Serif', serif" stroke="#000" stroke-width="0.22">1345</text>
<text x="237" y="1339.06" font-size="13.2" text-anchor="middle" font-family="'Liberation Serif', serif" stroke="#000" stroke-width="0.22">124</text>
<text x="375.4" y="1339.06" font-size="13.2" text-anchor="middle" font-family="'Liberation Serif', serif" stroke="#000" stroke-width="0.22">668</text>
<text x="305.7" y="1407.96" font-size="13.2" text-anchor="middle" font-family="'Liberation Serif', serif" stroke="#000" stroke-width="0.22">608</text>
<text x="625.3" y="1088.1" font-size="38.5" font-weight="bold" stroke="#000" stroke-width="0.22">h</text>
<text x="918.7" y="1120.7" font-size="22.2" text-anchor="middle" stroke="#000" stroke-width="0.22">Increased m<tspan font-size="13.32" dy="-7.99">6</tspan><tspan dy="7.99">A</tspan> peaks</text>
<circle cx="878.3" cy="1269.5" r="50.4" fill="#6695eb" fill-opacity="0.5"/>
<circle cx="927.95" cy="1269.5" r="50.4" fill="#ef7f7f" fill-opacity="0.5"/>
<circle cx="903.1" cy="1312.7" r="50.4" fill="#9bcd35" fill-opacity="0.5"/>
<text x="770.4" y="1209.3" font-size="17.7" font-family="'Liberation Serif', serif" stroke="#000" stroke-width="0.22">Haikai VS yw</text>
<text x="941.6" y="1209.3" font-size="17.7" font-family="'Liberation Serif', serif" stroke="#000" stroke-width="0.22">Mettl14 VS yw</text>
<text x="853" y="1392.3" font-size="17.7" font-family="'Liberation Serif', serif" stroke="#000" stroke-width="0.22">Mettl3 VS yw</text>
<text x="853" y="1262.56" font-size="13.2" text-anchor="middle" font-family="'Liberation Serif', serif" stroke="#000" stroke-width="0.22">182</text>
<text x="903" y="1254.16" font-size="13.2" text-anchor="middle" font-family="'Liberation Serif', serif" stroke="#000" stroke-width="0.22">43</text>
<text x="951" y="1262.56" font-size="13.2" text-anchor="middle" font-family="'Liberation Serif', serif" stroke="#000" stroke-width="0.22">161</text>
<text x="903" y="1284.86" font-size="13.2" text-anchor="middle" font-family="'Liberation Serif', serif" stroke="#000" stroke-width="0.22">31</text>
<text x="871.5" y="1307.26" font-size="13.2" text-anchor="middle" font-family="'Liberation Serif', serif" stroke="#000" stroke-width="0.22">22</text>
<text x="935.2" y="1307.26" font-size="13.2" text-anchor="middle" font-family="'Liberation Serif', serif" stroke="#000" stroke-width="0.22">25</text>
<text x="903" y="1344.36" font-size="13.2" text-anchor="middle" font-family="'Liberation Serif', serif" stroke="#000" stroke-width="0.22">252</text>
<text x="1280" y="1087.5" font-size="38.5" font-weight="bold" stroke="#000" stroke-width="0.22">i</text>
<text x="1499.1" y="1120.8" font-size="22.2" text-anchor="middle" stroke="#000" stroke-width="0.22">Common reduced m<tspan font-size="13.32" dy="-7.99">6</tspan><tspan dy="7.99">A</tspan> peaks</text>
<path d="M1469,1291.6 L1587.3,1291.6 A118.3,118.3 0 0 0 1351.09,1281.95 Z" fill="#f58ca2" stroke="#fff" stroke-width="1.1" stroke-linejoin="round"/>
<line x1="1473.84" y1="1173.1" x2="1474.1" y2="1166.9" stroke="#000" stroke-width="1.1"/>
<path d="M1469,1291.6 L1351.09,1281.95 A118.3,118.3 0 0 0 1550.52,1377.33 Z" fill="#c4ab38" stroke="#fff" stroke-width="1.1" stroke-linejoin="round"/>
<line x1="1417.83" y1="1398.59" x2="1415.15" y2="1404.19" stroke="#000" stroke-width="1.1"/>
<path d="M1469,1291.6 L1550.52,1377.33 A118.3,118.3 0 0 0 1574.07,1345.97 Z" fill="#30bf7e" stroke="#fff" stroke-width="1.1" stroke-linejoin="round"/>
<line x1="1563.84" y1="1362.81" x2="1568.81" y2="1366.54" stroke="#000" stroke-width="1.1"/>
<path d="M1469,1291.6 L1574.07,1345.97 A118.3,118.3 0 0 0 1587.15,1297.54 Z" fill="#00bbdd" stroke="#fff" stroke-width="1.1" stroke-linejoin="round"/>
<line x1="1583.49" y1="1322.54" x2="1589.49" y2="1324.15" stroke="#000" stroke-width="1.1"/>
<path d="M1469,1291.6 L1587.15,1297.54 A118.3,118.3 0 0 0 1587.3,1291.6 Z" fill="#cb97f1" stroke="#fff" stroke-width="1.1" stroke-linejoin="round"/>
<line x1="1587.56" y1="1294.58" x2="1593.77" y2="1294.74" stroke="#000" stroke-width="1.1"/>
<text x="1474.4" y="1166.3" font-size="12.1" font-weight="bold" stroke="#000" stroke-width="0.22">48.7%</text>
<text x="1378" y="1412.9" font-size="12.1" font-weight="bold" stroke="#000" stroke-width="0.22">38.4%</text>
<text x="1573" y="1374" font-size="12.1" font-weight="bold" stroke="#000" stroke-width="0.22">5.3%</text>
<text x="1594.7" y="1329.8" font-size="12.1" font-weight="bold" stroke="#000" stroke-width="0.22">6.8%</text>
<text x="1599" y="1299.2" font-size="12.1" font-weight="bold" stroke="#000" stroke-width="0.22">0.8%</text>
<rect x="1681.2" y="1252.6" width="9.5" height="7.4" fill="#f58ca2"/>
<text x="1704.3" y="1261.22" font-size="14.7" font-weight="bold" stroke="#000" stroke-width="0.22">5'_utr</text>
<rect x="1681.2" y="1270.6" width="9.5" height="7.4" fill="#c4ab38"/>
<text x="1704.3" y="1279.22" font-size="14.7" font-weight="bold" stroke="#000" stroke-width="0.22">start_codon</text>
<rect x="1681.2" y="1288.2" width="9.5" height="7.4" fill="#30bf7e"/>
<text x="1704.3" y="1296.82" font-size="14.7" font-weight="bold" stroke="#000" stroke-width="0.22">CDS</text>
<rect x="1681.2" y="1306.1" width="9.5" height="7.4" fill="#00bbdd"/>
<text x="1704.3" y="1314.72" font-size="14.7" font-weight="bold" stroke="#000" stroke-width="0.22">stop_codon</text>
<rect x="1681.2" y="1323.4" width="9.5" height="7.4" fill="#cb97f1"/>
<text x="1704.3" y="1332.02" font-size="14.7" font-weight="bold" stroke="#000" stroke-width="0.22">3'_utr</text>
<text x="1.5" y="1568.5" font-size="38.5" font-weight="bold" stroke="#000" stroke-width="0.22">j</text>
<g shape-rendering="auto">
<path d="M233.58,1658.7 V1657.5 H236.51 V1655.7 H241.64 V1657.2 H244.57 V1658.7 Z M299.56,1658.7 V1655.9 H302.13 V1653.5 H304.69 V1651.9 H306.89 V1650.7 H310.56 V1652.3 H313.12 V1654.7 H314.96 V1656.7 H316.42 V1658.7 Z M393.04,1658.7 V1656.88 H396.33 V1655.4 H401.1 V1658.7 Z M424.19,1658.7 V1654.3 H431.89 V1658.7 Z M547.73,1658.7 V1652.1 H553.23 V1653.09 H557.62 V1652.76 H562.39 V1652.63 H567.89 V1652.1 H570.82 V1658.7 Z M605.65,1658.7 V1649.02 H608.21 V1644.62 H611.14 V1641.98 H617.38 V1644.27 H619.94 V1641.1 H626.54 V1651.4 H630.21 V1653.59 H633.87 V1655.78 H639.37 V1652.86 H643.04 V1651.4 H648.53 V1653.23 H655.87 V1654.32 H663.2 V1656.14 H666.86 V1658.7 Z M674.19,1658.7 V1656.1 H682.62 V1658.7 Z M690.69,1658.7 V1657.15 H696.19 V1654.98 H699.85 V1652.5 H704.25 V1654.98 H707.92 V1658.7 Z M710.12,1658.7 V1657.2 H724.78 V1658.7 Z" fill="#0a0aae"/>
<line x1="160.5" y1="1658.7" x2="740.6" y2="1658.7" stroke="#2a2ab8" stroke-width="1.1"/>
<text x="56.6" y="1643.1" font-size="14.7" stroke="#000" stroke-width="0.22">yw_input1</text>
<text transform="translate(166.8 1621.9) scale(1 1.02)" font-size="9.8" stroke="#000" stroke-width="0.15">[0 - 5000]</text>
<path d="M233.58,1708.4 V1707.52 H236.51 V1706.2 H241.64 V1707.3 H244.57 V1708.4 Z M299.56,1708.4 V1706.65 H302.13 V1705.15 H304.69 V1704.15 H306.89 V1703.4 H310.56 V1704.4 H313.12 V1705.9 H314.96 V1707.15 H316.42 V1708.4 Z M393.04,1708.4 V1705.65 H396.33 V1703.4 H401.1 V1708.4 Z M424.19,1708.4 V1704.4 H431.89 V1708.4 Z M547.73,1708.4 V1702 H553.23 V1702.96 H557.62 V1702.64 H562.39 V1702.51 H567.89 V1702 H570.82 V1708.4 Z M605.65,1708.4 V1700.4 H619.21 V1701.6 H622.87 V1700.4 H628.37 V1703.6 H637.54 V1702.4 H648.53 V1704.8 H655.87 V1706.8 H670.53 V1707.6 H690.69 V1706.6 H699.85 V1705.4 H707.18 V1706.3 H716.35 V1705.4 H721.85 V1706.9 H724.78 V1708.4 Z" fill="#0a0aae"/>
<line x1="160.5" y1="1708.4" x2="740.6" y2="1708.4" stroke="#2a2ab8" stroke-width="1.1"/>
<text x="56.6" y="1692.8" font-size="14.7" stroke="#000" stroke-width="0.22">yw_input2</text>
<text transform="translate(166.8 1671.6) scale(1 1.02)" font-size="9.8" stroke="#000" stroke-width="0.15">[0 - 5000]</text>
<path d="M233.58,1758.1 V1757.38 H236.51 V1756.3 H241.64 V1757.2 H244.57 V1758.1 Z M299.56,1758.1 V1755.55 H302.13 V1753.36 H304.69 V1751.9 H306.89 V1750.8 H310.56 V1752.26 H313.12 V1754.45 H314.96 V1756.28 H316.42 V1758.1 Z M393.04,1758.1 V1757.11 H396.33 V1756.3 H401.1 V1758.1 Z M424.19,1758.1 V1755.9 H431.89 V1758.1 Z M547.73,1758.1 V1753.5 H553.23 V1754.19 H557.62 V1753.96 H562.39 V1753.87 H567.89 V1753.5 H570.82 V1758.1 Z M605.65,1758.1 V1748.04 H608.21 V1743.46 H611.14 V1740.72 H617.38 V1743.09 H619.94 V1739.8 H626.54 V1752.9 H630.21 V1754.46 H633.87 V1756.02 H639.37 V1753.94 H643.04 V1752.9 H648.53 V1754.2 H655.87 V1754.98 H663.2 V1756.28 H666.86 V1758.1 Z M674.19,1758.1 V1756.3 H682.62 V1758.1 Z M690.69,1758.1 V1757.1 H696.19 V1755.7 H699.85 V1754.1 H704.25 V1755.7 H707.92 V1758.1 Z M710.12,1758.1 V1757.3 H724.78 V1758.1 Z" fill="#ff14f2"/>
<line x1="160.5" y1="1758.1" x2="740.6" y2="1758.1" stroke="#d0d0d0" stroke-width="1.1"/>
<text x="56.6" y="1742.5" font-size="14.7" stroke="#000" stroke-width="0.22">Mettl3_input1</text>
<text transform="translate(166.8 1721.3) scale(1 1.02)" font-size="9.8" stroke="#000" stroke-width="0.15">[0 - 5000]</text>
<path d="M233.58,1807.8 V1807.2 H236.51 V1806.3 H241.64 V1807.05 H244.57 V1807.8 Z M299.56,1807.8 V1805.49 H302.13 V1803.51 H304.69 V1802.19 H306.89 V1801.2 H310.56 V1802.52 H313.12 V1804.5 H314.96 V1806.15 H316.42 V1807.8 Z M393.04,1807.8 V1806.98 H396.33 V1806.3 H401.1 V1807.8 Z M424.19,1807.8 V1805.9 H431.89 V1807.8 Z M547.73,1807.8 V1803 H553.23 V1803.72 H557.62 V1803.48 H562.39 V1803.38 H567.89 V1803 H570.82 V1807.8 Z M605.65,1807.8 V1796.36 H608.21 V1791.16 H611.14 V1788.04 H617.38 V1790.74 H619.94 V1787 H626.54 V1802.2 H630.21 V1803.88 H633.87 V1805.56 H639.37 V1803.32 H643.04 V1802.2 H648.53 V1803.6 H655.87 V1804.44 H663.2 V1805.84 H666.86 V1807.8 Z M674.19,1807.8 V1806.3 H682.62 V1807.8 Z M690.69,1807.8 V1806.98 H696.19 V1805.82 H699.85 V1804.5 H704.25 V1805.82 H707.92 V1807.8 Z M710.12,1807.8 V1806.7 H724.78 V1807.8 Z" fill="#ff14f2"/>
<line x1="160.5" y1="1807.8" x2="740.6" y2="1807.8" stroke="#d0d0d0" stroke-width="1.1"/>
<text x="56.6" y="1792.2" font-size="14.7" stroke="#000" stroke-width="0.22">Mettl3_input2</text>
<text transform="translate(166.8 1771) scale(1 1.02)" font-size="9.8" stroke="#000" stroke-width="0.15">[0 - 5000]</text>
<path d="M233.58,1857.5 V1856.9 H236.51 V1856 H241.64 V1856.75 H244.57 V1857.5 Z M299.56,1857.5 V1855.19 H302.13 V1853.21 H304.69 V1851.89 H306.89 V1850.9 H310.56 V1852.22 H313.12 V1854.2 H314.96 V1855.85 H316.42 V1857.5 Z M393.04,1857.5 V1855.85 H396.33 V1854.5 H401.1 V1857.5 Z M424.19,1857.5 V1854.5 H431.89 V1857.5 Z M547.73,1857.5 V1852 H553.23 V1852.83 H557.62 V1852.55 H562.39 V1852.44 H567.89 V1852 H570.82 V1857.5 Z M605.65,1857.5 V1848.42 H608.21 V1844.3 H611.14 V1841.83 H617.38 V1843.97 H619.94 V1841 H626.54 V1851.6 H630.21 V1853.37 H633.87 V1855.14 H639.37 V1852.78 H643.04 V1851.6 H648.53 V1853.08 H655.87 V1853.96 H663.2 V1855.43 H666.86 V1857.5 Z M674.19,1857.5 V1856 H682.62 V1857.5 Z M690.69,1857.5 V1856.3 H696.19 V1854.62 H699.85 V1852.7 H704.25 V1854.62 H707.92 V1857.5 Z M710.12,1857.5 V1856.4 H724.78 V1857.5 Z" fill="#ffc905"/>
<line x1="160.5" y1="1857.5" x2="740.6" y2="1857.5" stroke="#d0d0d0" stroke-width="1.1"/>
<text x="56.6" y="1841.9" font-size="14.7" stroke="#000" stroke-width="0.22">Mettl14_input1</text>
<text transform="translate(166.8 1820.7) scale(1 1.02)" font-size="9.8" stroke="#000" stroke-width="0.15">[0 - 5000]</text>
<path d="M233.58,1907.2 V1906.88 H236.51 V1906.4 H241.64 V1906.8 H244.57 V1907.2 Z M299.56,1907.2 V1906.15 H302.13 V1905.25 H304.69 V1904.65 H306.89 V1904.2 H310.56 V1904.8 H313.12 V1905.7 H314.96 V1906.45 H316.42 V1907.2 Z M393.04,1907.2 V1905.55 H396.33 V1904.2 H401.1 V1907.2 Z M424.19,1907.2 V1904.2 H431.89 V1907.2 Z M547.73,1907.2 V1902.8 H553.23 V1903.46 H557.62 V1903.24 H562.39 V1903.15 H567.89 V1902.8 H570.82 V1907.2 Z M605.65,1907.2 V1902.2 H619.21 V1902.95 H622.87 V1902.2 H628.37 V1904.2 H637.54 V1903.45 H648.53 V1904.95 H655.87 V1906.2 H670.53 V1906.4 H690.69 V1905.76 H699.85 V1904.8 H707.18 V1905.52 H716.35 V1904.8 H721.85 V1906 H724.78 V1907.2 Z" fill="#ffc905"/>
<line x1="160.5" y1="1907.2" x2="740.6" y2="1907.2" stroke="#d0d0d0" stroke-width="1.1"/>
<text x="56.6" y="1891.6" font-size="14.7" stroke="#000" stroke-width="0.22">Mettl14_input2</text>
<text transform="translate(166.8 1870.4) scale(1 1.02)" font-size="9.8" stroke="#000" stroke-width="0.15">[0 - 5000]</text>
<path d="M233.58,1956.9 V1956.02 H236.51 V1954.7 H241.64 V1955.8 H244.57 V1956.9 Z M299.56,1956.9 V1954.35 H302.13 V1952.16 H304.69 V1950.7 H306.89 V1949.6 H310.56 V1951.06 H313.12 V1953.25 H314.96 V1955.08 H316.42 V1956.9 Z M393.04,1956.9 V1955.25 H396.33 V1953.9 H401.1 V1956.9 Z M424.19,1956.9 V1953.6 H431.89 V1956.9 Z M547.73,1956.9 V1951.4 H553.23 V1952.23 H557.62 V1951.95 H562.39 V1951.84 H567.89 V1951.4 H570.82 V1956.9 Z M605.65,1956.9 V1944.53 H608.21 V1938.9 H611.14 V1935.53 H617.38 V1938.45 H619.94 V1934.4 H626.54 V1950.3 H630.21 V1952.28 H633.87 V1954.26 H639.37 V1951.62 H643.04 V1950.3 H648.53 V1951.95 H655.87 V1952.94 H663.2 V1954.59 H666.86 V1956.9 Z M674.19,1956.9 V1955.8 H682.62 V1956.9 Z M690.69,1956.9 V1955.8 H696.19 V1954.26 H699.85 V1952.5 H704.25 V1954.26 H707.92 V1956.9 Z M710.12,1956.9 V1955.8 H724.78 V1956.9 Z" fill="#05c83c"/>
<line x1="160.5" y1="1956.9" x2="740.6" y2="1956.9" stroke="#d0d0d0" stroke-width="1.1"/>
<text x="56.6" y="1941.3" font-size="14.7" stroke="#000" stroke-width="0.22">Hakai_input1</text>
<text transform="translate(166.8 1920.1) scale(1 1.02)" font-size="9.8" stroke="#000" stroke-width="0.15">[0 - 5000]</text>
<path d="M233.58,2006.6 V2006.16 H236.51 V2005.5 H241.64 V2006.05 H244.57 V2006.6 Z M299.56,2006.6 V2005.45 H302.13 V2004.46 H304.69 V2003.8 H306.89 V2003.3 H310.56 V2003.96 H313.12 V2004.95 H314.96 V2005.78 H316.42 V2006.6 Z M393.04,2006.6 V2004.79 H396.33 V2003.3 H401.1 V2006.6 Z M424.19,2006.6 V2002.6 H431.89 V2006.6 Z M547.73,2006.6 V2001.5 H553.23 V2002.27 H557.62 V2002.01 H562.39 V2001.91 H567.89 V2001.5 H570.82 V2006.6 Z M605.65,2006.6 V2000 H619.21 V2000.99 H622.87 V2000 H628.37 V2002.64 H637.54 V2001.65 H648.53 V2003.63 H655.87 V2005.28 H670.53 V2005.8 H690.69 V2005.28 H699.85 V2004.4 H707.18 V2005.06 H716.35 V2004.4 H721.85 V2005.5 H724.78 V2006.6 Z" fill="#05c83c"/>
<line x1="160.5" y1="2006.6" x2="740.6" y2="2006.6" stroke="#d0d0d0" stroke-width="1.1"/>
<text x="56.6" y="1991" font-size="14.7" stroke="#000" stroke-width="0.22">Hakai_input2</text>
<text transform="translate(166.8 1969.8) scale(1 1.02)" font-size="9.8" stroke="#000" stroke-width="0.15">[0 - 5000]</text>
<path d="M232.75,2056.3 V2051.74 H234.22 V2047.33 H236.97 V2041.6 H241.91 V2055.27 H245.21 V2056.3 Z M287.73,2056.3 V2052.6 H291.39 V2055.19 H295.06 V2056.3 Z M299.82,2056.3 V2040.4 H302.39 V2035.28 H304.77 V2031.59 H306.6 V2027.9 H309.72 V2033.3 H311.73 V2043.52 H313.56 V2049.91 H316.13 V2056.3 Z M393.1,2056.3 V2053.34 H396.39 V2052.6 H400.61 V2056.3 Z M424.06,2056.3 V2052.62 H425.71 V2051.7 H429.38 V2052.85 H431.76 V2056.3 Z M547.2,2056.3 V2052.9 H551.5 V2053.3 H555.53 V2052.5 H562.25 V2051.3 H570.99 V2056.3 Z M605.26,2056.3 V2048.9 H606.87 V2036.3 H609.29 V2016.3 H627.03 V2048.9 H631.46 V2052.3 H634.82 V2053.9 H637.51 V2052.85 H639.53 V2046.36 H642.22 V2042.5 H646.92 V2045.54 H648.94 V2051.33 H650.95 V2054.37 H653.64 V2055.4 H667.08 V2056.3 Z M698.66,2056.3 V2055.3 H707.4 V2056.3 Z M710.76,2056.3 V2055.3 H724.87 V2056.3 Z" fill="#0a0aae"/>
<line x1="160.5" y1="2056.3" x2="740.6" y2="2056.3" stroke="#2a2ab8" stroke-width="1.1"/>
<text x="56.6" y="2040.7" font-size="14.7" stroke="#000" stroke-width="0.22">yw_IP1</text>
<text transform="translate(166.8 2019.5) scale(1 1.02)" font-size="9.8" stroke="#000" stroke-width="0.15">[0 - 5000]</text>
<path d="M232.75,2106 V2099.49 H234.22 V2093.19 H236.97 V2085 H241.91 V2104.53 H245.21 V2106 Z M287.73,2106 V2103.5 H291.39 V2105.25 H295.06 V2106 Z M299.82,2106 V2086.51 H302.39 V2080.25 H304.77 V2075.72 H306.6 V2071.2 H309.72 V2077.81 H311.73 V2090.34 H313.56 V2098.17 H316.13 V2106 Z M393.1,2106 V2100.16 H396.39 V2098.7 H400.61 V2106 Z M424.06,2106 V2099.44 H425.71 V2097.8 H429.38 V2099.85 H431.76 V2106 Z M547.2,2106 V2099.5 H551.5 V2098.6 H555.53 V2100 H562.25 V2099 H566.29 V2098.6 H570.99 V2106 Z M605.26,2106 V2096.6 H606.87 V2094 H608.62 V2087.2 H610.63 V2084 H613.32 V2081 H618.03 V2084 H621.39 V2087 H627.03 V2098.6 H631.46 V2102 H634.82 V2103.6 H637.51 V2101.56 H639.53 V2099.71 H642.22 V2098.6 H648.94 V2100.97 H650.95 V2103.34 H653.64 V2105.11 H657 V2106 Z M706.05,2106 V2104.8 H728.9 V2106 Z" fill="#0a0aae"/>
<line x1="160.5" y1="2106" x2="740.6" y2="2106" stroke="#2a2ab8" stroke-width="1.1"/>
<text x="56.6" y="2090.4" font-size="14.7" stroke="#000" stroke-width="0.22">yw_IP2</text>
<text transform="translate(166.8 2069.2) scale(1 1.02)" font-size="9.8" stroke="#000" stroke-width="0.15">[0 - 5000]</text>
<path d="M232.75,2155.7 V2155.39 H234.22 V2155.09 H236.97 V2154.7 H241.91 V2155.63 H245.21 V2155.7 Z M299.82,2155.7 V2154.5 H302.02 V2153.1 H304.4 V2152.1 H306.6 V2151.7 H309.72 V2152.5 H312.1 V2153.7 H314.3 V2154.7 H316.13 V2155.7 Z M393.1,2155.7 V2154.5 H396.39 V2154.2 H400.61 V2155.7 Z M424.06,2155.7 V2154.1 H425.71 V2153.7 H429.38 V2154.2 H431.76 V2155.7 Z M547.2,2155.7 V2154.1 H555.53 V2153.8 H564.94 V2152.3 H570.99 V2155.7 Z M605.26,2155.7 V2149 H606.87 V2137.7 H609.29 V2120.1 H610.63 V2116.3 H627.03 V2148.3 H631.46 V2151.7 H634.82 V2153.3 H637.51 V2151.4 H639.53 V2143.32 H642.22 V2138.5 H646.92 V2142.28 H648.94 V2149.51 H650.95 V2153.29 H653.64 V2154.8 H667.08 V2155.7 Z M698.66,2155.7 V2154.7 H706.05 V2155.7 Z M714.79,2155.7 V2154.7 H724.87 V2155.7 Z" fill="#ff14f2"/>
<line x1="160.5" y1="2155.7" x2="740.6" y2="2155.7" stroke="#d0d0d0" stroke-width="1.1"/>
<text x="56.6" y="2140.1" font-size="14.7" stroke="#000" stroke-width="0.22">Mettl3_IP1</text>
<text transform="translate(166.8 2118.9) scale(1 1.02)" font-size="9.8" stroke="#000" stroke-width="0.15">[0 - 5000]</text>
<path d="M232.75,2205.4 V2205.15 H234.22 V2204.91 H236.97 V2204.6 H241.91 V2205.34 H245.21 V2205.4 Z M299.82,2205.4 V2204.2 H302.02 V2202.8 H304.4 V2201.8 H306.6 V2201.4 H309.72 V2202.2 H312.1 V2203.4 H314.3 V2204.4 H316.13 V2205.4 Z M393.1,2205.4 V2204.2 H396.39 V2203.9 H400.61 V2205.4 Z M424.06,2205.4 V2203.8 H425.71 V2203.4 H429.38 V2203.9 H431.76 V2205.4 Z M547.2,2205.4 V2203.8 H562.93 V2202 H570.99 V2205.4 Z M605.26,2205.4 V2198.7 H606.87 V2185.4 H609.29 V2166 H627.03 V2198 H631.46 V2201.4 H634.82 V2203 H637.51 V2201.43 H639.53 V2193.95 H642.22 V2189.5 H646.92 V2193 H648.94 V2199.68 H650.95 V2203.17 H653.64 V2204.5 H667.08 V2205.4 Z M700,2205.4 V2204.4 H706.05 V2205.4 Z M714.79,2205.4 V2204.4 H724.87 V2205.4 Z" fill="#ff14f2"/>
<line x1="160.5" y1="2205.4" x2="740.6" y2="2205.4" stroke="#d0d0d0" stroke-width="1.1"/>
<text x="56.6" y="2189.8" font-size="14.7" stroke="#000" stroke-width="0.22">Mettl3_IP2</text>
<text transform="translate(166.8 2168.6) scale(1 1.02)" font-size="9.8" stroke="#000" stroke-width="0.15">[0 - 5000]</text>
<path d="M232.75,2255.1 V2254.79 H234.22 V2254.49 H236.97 V2254.1 H241.91 V2255.03 H245.21 V2255.1 Z M299.82,2255.1 V2253.45 H302.02 V2251.53 H304.4 V2250.15 H306.6 V2249.6 H309.72 V2250.7 H312.1 V2252.35 H314.3 V2253.73 H316.13 V2255.1 Z M393.1,2255.1 V2253.5 H396.39 V2253.1 H400.61 V2255.1 Z M424.06,2255.1 V2252.7 H425.71 V2252.1 H429.38 V2252.85 H431.76 V2255.1 Z M547.2,2255.1 V2252.4 H570.99 V2255.1 Z M605.26,2255.1 V2248.4 H606.87 V2243.1 H609.29 V2229.6 H610.63 V2219.5 H613.32 V2214.8 H618.03 V2216.1 H620.71 V2219.5 H623.4 V2223.5 H627.03 V2249.1 H631.46 V2251.3 H634.82 V2253.5 H637.51 V2250.8 H639.53 V2242.72 H642.22 V2237.9 H646.92 V2241.68 H648.94 V2248.91 H650.95 V2252.69 H653.64 V2254.2 H667.08 V2255.1 Z M698.66,2255.1 V2254.1 H707.4 V2255.1 Z M714.79,2255.1 V2254.1 H724.87 V2255.1 Z" fill="#ffc905"/>
<line x1="160.5" y1="2255.1" x2="740.6" y2="2255.1" stroke="#d0d0d0" stroke-width="1.1"/>
<text x="56.6" y="2239.5" font-size="14.7" stroke="#000" stroke-width="0.22">Mettl14_IP1</text>
<text transform="translate(166.8 2218.3) scale(1 1.02)" font-size="9.8" stroke="#000" stroke-width="0.15">[0 - 5000]</text>
<path d="M232.75,2304.8 V2304.49 H234.22 V2304.19 H236.97 V2303.8 H241.91 V2304.73 H245.21 V2304.8 Z M299.82,2304.8 V2304.05 H302.02 V2303.18 H304.4 V2302.55 H306.6 V2302.3 H309.72 V2302.8 H312.1 V2303.55 H314.3 V2304.18 H316.13 V2304.8 Z M393.1,2304.8 V2302.4 H396.39 V2301.8 H400.61 V2304.8 Z M424.06,2304.8 V2301.6 H425.71 V2300.8 H429.38 V2301.8 H431.76 V2304.8 Z M547.2,2304.8 V2300.1 H551.5 V2298.8 H555.53 V2299.2 H562.25 V2297.8 H566.29 V2297 H570.99 V2304.8 Z M605.26,2304.8 V2295.4 H606.87 V2291.4 H609.29 V2287.3 H610.63 V2282.8 H613.32 V2275 H618.03 V2280.8 H622.73 V2282.8 H627.03 V2296.1 H631.46 V2299.8 H634.82 V2301 H637.51 V2297.96 H639.53 V2295.11 H642.22 V2293.4 H648.94 V2297.05 H650.95 V2300.7 H653.64 V2303.43 H657 V2304.8 Z M700,2304.8 V2303.5 H714.79 V2302.1 H724.87 V2303.5 H728.9 V2304.8 Z" fill="#ffc905"/>
<line x1="160.5" y1="2304.8" x2="740.6" y2="2304.8" stroke="#d0d0d0" stroke-width="1.1"/>
<text x="56.6" y="2289.2" font-size="14.7" stroke="#000" stroke-width="0.22">Mettl14_IP2</text>
<text transform="translate(166.8 2268) scale(1 1.02)" font-size="9.8" stroke="#000" stroke-width="0.15">[0 - 5000]</text>
<path d="M232.75,2354.5 V2353.11 H234.22 V2351.76 H236.97 V2350 H241.91 V2354.18 H245.21 V2354.5 Z M287.73,2354.5 V2353 H291.39 V2354.05 H295.06 V2354.5 Z M299.82,2354.5 V2344.98 H302.39 V2341.92 H304.77 V2339.71 H306.6 V2337.5 H309.72 V2340.73 H311.73 V2346.85 H313.56 V2350.68 H316.13 V2354.5 Z M393.1,2354.5 V2351.3 H396.39 V2350.5 H400.61 V2354.5 Z M424.06,2354.5 V2350.9 H425.71 V2350 H429.38 V2351.12 H431.76 V2354.5 Z M547.2,2354.5 V2351.1 H551.5 V2352 H555.53 V2351.1 H570.99 V2354.5 Z M605.26,2354.5 V2347.1 H606.87 V2332.5 H609.29 V2314.9 H627.03 V2345.1 H631.46 V2350.5 H634.82 V2352.1 H637.51 V2348.95 H639.53 V2338.52 H642.22 V2332.3 H646.92 V2337.18 H648.94 V2346.51 H650.95 V2351.39 H653.64 V2353.6 H667.08 V2354.5 Z M698.66,2354.5 V2353.5 H707.4 V2354.5 Z M710.76,2354.5 V2353.5 H728.9 V2354.5 Z" fill="#05c83c"/>
<line x1="160.5" y1="2354.5" x2="740.6" y2="2354.5" stroke="#d0d0d0" stroke-width="1.1"/>
<text x="56.6" y="2338.9" font-size="14.7" stroke="#000" stroke-width="0.22">Hakai_IP1</text>
<text transform="translate(166.8 2317.7) scale(1 1.02)" font-size="9.8" stroke="#000" stroke-width="0.15">[0 - 5000]</text>
<path d="M232.75,2404.2 V2403.11 H234.22 V2402.06 H236.97 V2400.7 H241.91 V2403.95 H245.21 V2404.2 Z M299.82,2404.2 V2401.8 H302.02 V2399 H304.4 V2397 H306.6 V2396.2 H309.72 V2397.8 H312.1 V2400.2 H314.3 V2402.2 H316.13 V2404.2 Z M393.1,2404.2 V2401 H396.39 V2400.2 H400.61 V2404.2 Z M424.06,2404.2 V2400.2 H425.71 V2399.2 H429.38 V2400.45 H431.76 V2404.2 Z M547.2,2404.2 V2399.2 H551.5 V2398.2 H555.53 V2398.6 H562.25 V2397.8 H566.29 V2396.8 H568.97 V2397.8 H570.99 V2404.2 Z M605.26,2404.2 V2394.2 H606.87 V2390.8 H608.62 V2385.4 H610.63 V2378.7 H613.32 V2369.5 H618.03 V2373.2 H619.37 V2376.7 H627.03 V2394.2 H631.46 V2398.8 H637.51 V2396.52 H639.53 V2393.32 H642.22 V2391.4 H648.94 V2395.5 H650.95 V2399.59 H653.64 V2402.66 H657 V2404.2 Z M704.04,2404.2 V2403.4 H714.79 V2401.8 H728.9 V2403.2 H730.24 V2404.2 Z" fill="#05c83c"/>
<line x1="160.5" y1="2404.2" x2="740.6" y2="2404.2" stroke="#d0d0d0" stroke-width="1.1"/>
<text x="56.6" y="2388.6" font-size="14.7" stroke="#000" stroke-width="0.22">Hakai_IP2</text>
<text transform="translate(166.8 2367.4) scale(1 1.02)" font-size="9.8" stroke="#000" stroke-width="0.15">[0 - 5000]</text>
</g>
<rect x="229.9" y="1603" width="18.8" height="801.2" fill="#f9b85c" fill-opacity="0.3"/>
<rect x="296.6" y="1603" width="21.3" height="801.2" fill="#f9b85c" fill-opacity="0.3"/>
<rect x="601.6" y="1603" width="54.3" height="801.2" fill="#9477bd" fill-opacity="0.18"/>
<line x1="225.1" y1="2446.9" x2="729.9" y2="2446.9" stroke="#3a3ae6" stroke-width="1"/>
<rect x="225.1" y="2442.3" width="19.1" height="9.2" fill="#0000b4"/>
<rect x="301.4" y="2442.3" width="7" height="9.2" fill="#0000b4"/>
<rect x="308.4" y="2437.9" width="5.5" height="18" fill="#0000b4"/>
<rect x="394.5" y="2437.9" width="4.8" height="18" fill="#0000b4"/>
<rect x="425.3" y="2437.9" width="3.7" height="18" fill="#0000b4"/>
<rect x="547.7" y="2437.9" width="4.8" height="18" fill="#0000b4"/>
<rect x="555.8" y="2437.9" width="5.1" height="18" fill="#0000b4"/>
<rect x="563.5" y="2437.9" width="6.2" height="18" fill="#0000b4"/>
<rect x="605.6" y="2437.9" width="5.2" height="18" fill="#0000b4"/>
<rect x="610.8" y="2442.3" width="119.1" height="9.2" fill="#0000b4"/>
<path d="M254.3,2444.3 l2.6,2.6 l-2.6,2.6" fill="none" stroke="#3a3ae6" stroke-width="1.1"/>
<path d="M258.7,2444.3 l2.6,2.6 l-2.6,2.6" fill="none" stroke="#3a3ae6" stroke-width="1.1"/>
<path d="M292.7,2444.3 l2.6,2.6 l-2.6,2.6" fill="none" stroke="#3a3ae6" stroke-width="1.1"/>
<path d="M296.4,2444.3 l2.6,2.6 l-2.6,2.6" fill="none" stroke="#3a3ae6" stroke-width="1.1"/>
<path d="M328.7,2444.3 l2.6,2.6 l-2.6,2.6" fill="none" stroke="#3a3ae6" stroke-width="1.1"/>
<path d="M366.8,2444.3 l2.6,2.6 l-2.6,2.6" fill="none" stroke="#3a3ae6" stroke-width="1.1"/>
<path d="M414.8,2444.3 l2.6,2.6 l-2.6,2.6" fill="none" stroke="#3a3ae6" stroke-width="1.1"/>
<path d="M444.5,2444.3 l2.6,2.6 l-2.6,2.6" fill="none" stroke="#3a3ae6" stroke-width="1.1"/>
<path d="M481.9,2444.3 l2.6,2.6 l-2.6,2.6" fill="none" stroke="#3a3ae6" stroke-width="1.1"/>
<path d="M519.7,2444.3 l2.6,2.6 l-2.6,2.6" fill="none" stroke="#3a3ae6" stroke-width="1.1"/>
<path d="M584.9,2444.3 l2.6,2.6 l-2.6,2.6" fill="none" stroke="#3a3ae6" stroke-width="1.1"/>
<text x="462.3" y="2479.8" font-size="11.4" text-anchor="middle" stroke="#000" stroke-width="0.22">nrv3</text>
<rect x="160.5" y="1603" width="580.1" height="895.9" fill="none" stroke="#8c8c8c" stroke-width="1.2"/>
<text x="860.5" y="1568.5" font-size="38.5" font-weight="bold" stroke="#000" stroke-width="0.22">k</text>
<text x="1422.5" y="1583.7" font-size="24.3" text-anchor="middle" stroke="#000" stroke-width="0.22">m<tspan font-size="14.58" dy="-8.75">6</tspan><tspan dy="8.75">A</tspan>-RIP-qPCR</text>
<rect x="1023.1" y="1661.5" width="12.2" height="269.5" fill="#0433ff"/>
<line x1="1029.2" y1="1661.5" x2="1029.2" y2="1633.4" stroke="#0433ff" stroke-width="1.8"/>
<line x1="1025" y1="1633.4" x2="1033.4" y2="1633.4" stroke="#0433ff" stroke-width="1.8"/>
<circle cx="1029" cy="1630.9" r="2.6" fill="none" stroke="#000" stroke-width="1"/>
<circle cx="1029" cy="1668.2" r="2.6" fill="none" stroke="#000" stroke-width="1"/>
<circle cx="1029" cy="1682" r="2.6" fill="none" stroke="#000" stroke-width="1"/>
<rect x="1045" y="1897.5" width="12.2" height="33.5" fill="#ff2600"/>
<line x1="1051.1" y1="1897.5" x2="1051.1" y2="1891" stroke="#ff2600" stroke-width="1.8"/>
<line x1="1046.9" y1="1891" x2="1055.3" y2="1891" stroke="#ff2600" stroke-width="1.8"/>
<circle cx="1046.1" cy="1892.5" r="2.6" fill="none" stroke="#000" stroke-width="1"/>
<circle cx="1055.7" cy="1894.4" r="2.6" fill="none" stroke="#000" stroke-width="1"/>
<circle cx="1050.9" cy="1900.9" r="2.6" fill="none" stroke="#000" stroke-width="1"/>
<line x1="1028.45" y1="1621.6" x2="1051.85" y2="1621.6" stroke="#000" stroke-width="1.6"/>
<text x="1040.15" y="1620.8" font-size="25" text-anchor="middle" font-weight="bold" stroke="#000" stroke-width="0.45">***</text>
<text x="1051.75" y="1960.8" font-size="19.7" text-anchor="end" transform="rotate(-45 1051.75 1960.8)" stroke="#000" stroke-width="0.22">Oda</text>
<rect x="1081.4" y="1690.2" width="12.2" height="240.8" fill="#0433ff"/>
<line x1="1087.5" y1="1690.2" x2="1087.5" y2="1648.3" stroke="#0433ff" stroke-width="1.8"/>
<line x1="1083.3" y1="1648.3" x2="1091.7" y2="1648.3" stroke="#0433ff" stroke-width="1.8"/>
<circle cx="1087.4" cy="1648.6" r="2.6" fill="none" stroke="#000" stroke-width="1"/>
<circle cx="1087.4" cy="1689" r="2.6" fill="none" stroke="#000" stroke-width="1"/>
<circle cx="1087.4" cy="1728.9" r="2.6" fill="none" stroke="#000" stroke-width="1"/>
<rect x="1103.3" y="1826.7" width="12.2" height="104.3" fill="#ff2600"/>
<line x1="1109.4" y1="1826.7" x2="1109.4" y2="1819.4" stroke="#ff2600" stroke-width="1.8"/>
<line x1="1105.2" y1="1819.4" x2="1113.6" y2="1819.4" stroke="#ff2600" stroke-width="1.8"/>
<circle cx="1104.6" cy="1821.4" r="2.6" fill="none" stroke="#000" stroke-width="1"/>
<circle cx="1114.1" cy="1822.8" r="2.6" fill="none" stroke="#000" stroke-width="1"/>
<circle cx="1109.3" cy="1830.1" r="2.6" fill="none" stroke="#000" stroke-width="1"/>
<line x1="1086.75" y1="1638.2" x2="1110.15" y2="1638.2" stroke="#000" stroke-width="1.6"/>
<text x="1098.45" y="1637.4" font-size="25" text-anchor="middle" font-weight="bold" stroke="#000" stroke-width="0.45">**</text>
<text x="1106.75" y="1961.8" font-size="19.7" text-anchor="end" transform="rotate(-45 1106.75 1961.8)" stroke="#000" stroke-width="0.22">fl(2)d</text>
<rect x="1139.7" y="1741.6" width="12.2" height="189.4" fill="#0433ff"/>
<line x1="1145.8" y1="1741.6" x2="1145.8" y2="1726.7" stroke="#0433ff" stroke-width="1.8"/>
<line x1="1141.6" y1="1726.7" x2="1150" y2="1726.7" stroke="#0433ff" stroke-width="1.8"/>
<circle cx="1145.9" cy="1725.8" r="2.6" fill="none" stroke="#000" stroke-width="1"/>
<circle cx="1145.9" cy="1743.8" r="2.6" fill="none" stroke="#000" stroke-width="1"/>
<circle cx="1145.9" cy="1750.9" r="2.6" fill="none" stroke="#000" stroke-width="1"/>
<rect x="1161.6" y="1884.9" width="12.2" height="46.1" fill="#ff2600"/>
<line x1="1167.7" y1="1884.9" x2="1167.7" y2="1868" stroke="#ff2600" stroke-width="1.8"/>
<line x1="1163.5" y1="1868" x2="1171.9" y2="1868" stroke="#ff2600" stroke-width="1.8"/>
<circle cx="1167.8" cy="1866.6" r="2.6" fill="none" stroke="#000" stroke-width="1"/>
<circle cx="1163" cy="1895.3" r="2.6" fill="none" stroke="#000" stroke-width="1"/>
<circle cx="1172.6" cy="1891.4" r="2.6" fill="none" stroke="#000" stroke-width="1"/>
<line x1="1145.05" y1="1714.6" x2="1168.45" y2="1714.6" stroke="#000" stroke-width="1.6"/>
<text x="1156.75" y="1713.8" font-size="25" text-anchor="middle" font-weight="bold" stroke="#000" stroke-width="0.45">***</text>
<text x="1166.75" y="1960.8" font-size="19.7" text-anchor="end" transform="rotate(-45 1166.75 1960.8)" stroke="#000" stroke-width="0.22">nvr3</text>
<rect x="1198" y="1755.6" width="12.2" height="175.4" fill="#0433ff"/>
<line x1="1204.1" y1="1755.6" x2="1204.1" y2="1736" stroke="#0433ff" stroke-width="1.8"/>
<line x1="1199.9" y1="1736" x2="1208.3" y2="1736" stroke="#0433ff" stroke-width="1.8"/>
<circle cx="1204.3" cy="1734.8" r="2.6" fill="none" stroke="#000" stroke-width="1"/>
<circle cx="1204.3" cy="1758.2" r="2.6" fill="none" stroke="#000" stroke-width="1"/>
<circle cx="1204.3" cy="1770.2" r="2.6" fill="none" stroke="#000" stroke-width="1"/>
<rect x="1219.9" y="1890.8" width="12.2" height="40.2" fill="#ff2600"/>
<line x1="1226" y1="1890.8" x2="1226" y2="1880.7" stroke="#ff2600" stroke-width="1.8"/>
<line x1="1221.8" y1="1880.7" x2="1230.2" y2="1880.7" stroke="#ff2600" stroke-width="1.8"/>
<circle cx="1226" cy="1880.7" r="2.6" fill="none" stroke="#000" stroke-width="1"/>
<circle cx="1226" cy="1889.9" r="2.6" fill="none" stroke="#000" stroke-width="1"/>
<circle cx="1226" cy="1898.9" r="2.6" fill="none" stroke="#000" stroke-width="1"/>
<line x1="1203.35" y1="1723" x2="1226.75" y2="1723" stroke="#000" stroke-width="1.6"/>
<text x="1215.05" y="1722.2" font-size="25" text-anchor="middle" font-weight="bold" stroke="#000" stroke-width="0.45">***</text>
<text x="1223.15" y="1961.8" font-size="19.7" text-anchor="end" transform="rotate(-45 1223.15 1961.8)" stroke="#000" stroke-width="0.22">gish</text>
<rect x="1256.3" y="1790.8" width="12.2" height="140.2" fill="#0433ff"/>
<line x1="1262.4" y1="1790.8" x2="1262.4" y2="1782.3" stroke="#0433ff" stroke-width="1.8"/>
<line x1="1258.2" y1="1782.3" x2="1266.6" y2="1782.3" stroke="#0433ff" stroke-width="1.8"/>
<circle cx="1257.4" cy="1785.4" r="2.6" fill="none" stroke="#000" stroke-width="1"/>
<circle cx="1267" cy="1786" r="2.6" fill="none" stroke="#000" stroke-width="1"/>
<circle cx="1262.5" cy="1796.9" r="2.6" fill="none" stroke="#000" stroke-width="1"/>
<rect x="1278.2" y="1900.3" width="12.2" height="30.7" fill="#ff2600"/>
<line x1="1284.3" y1="1900.3" x2="1284.3" y2="1892.5" stroke="#ff2600" stroke-width="1.8"/>
<line x1="1280.1" y1="1892.5" x2="1288.5" y2="1892.5" stroke="#ff2600" stroke-width="1.8"/>
<circle cx="1284.4" cy="1891.9" r="2.6" fill="none" stroke="#000" stroke-width="1"/>
<circle cx="1279.4" cy="1900.6" r="2.6" fill="none" stroke="#000" stroke-width="1"/>
<circle cx="1289.2" cy="1900.1" r="2.6" fill="none" stroke="#000" stroke-width="1"/>
<line x1="1261.65" y1="1770.8" x2="1285.05" y2="1770.8" stroke="#000" stroke-width="1.6"/>
<text x="1273.35" y="1770" font-size="25" text-anchor="middle" font-weight="bold" stroke="#000" stroke-width="0.45">****</text>
<text x="1282.85" y="1960.8" font-size="19.7" text-anchor="end" transform="rotate(-45 1282.85 1960.8)" stroke="#000" stroke-width="0.22">Atpalpha</text>
<rect x="1314.6" y="1809.6" width="12.2" height="121.4" fill="#0433ff"/>
<line x1="1320.7" y1="1809.6" x2="1320.7" y2="1799.2" stroke="#0433ff" stroke-width="1.8"/>
<line x1="1316.5" y1="1799.2" x2="1324.9" y2="1799.2" stroke="#0433ff" stroke-width="1.8"/>
<circle cx="1320.7" cy="1798.6" r="2.6" fill="none" stroke="#000" stroke-width="1"/>
<circle cx="1315.9" cy="1810.4" r="2.6" fill="none" stroke="#000" stroke-width="1"/>
<circle cx="1325.7" cy="1807.6" r="2.6" fill="none" stroke="#000" stroke-width="1"/>
<rect x="1336.5" y="1903" width="12.2" height="28" fill="#ff2600"/>
<line x1="1342.6" y1="1903" x2="1342.6" y2="1893.7" stroke="#ff2600" stroke-width="1.8"/>
<line x1="1338.4" y1="1893.7" x2="1346.8" y2="1893.7" stroke="#ff2600" stroke-width="1.8"/>
<circle cx="1342.5" cy="1894.5" r="2.6" fill="none" stroke="#000" stroke-width="1"/>
<circle cx="1342.5" cy="1901.7" r="2.6" fill="none" stroke="#000" stroke-width="1"/>
<circle cx="1342.5" cy="1910.3" r="2.6" fill="none" stroke="#000" stroke-width="1"/>
<line x1="1319.95" y1="1788.8" x2="1343.35" y2="1788.8" stroke="#000" stroke-width="1.6"/>
<text x="1331.65" y="1788" font-size="25" text-anchor="middle" font-weight="bold" stroke="#000" stroke-width="0.45">****</text>
<text x="1345.25" y="1960.8" font-size="19.7" text-anchor="end" transform="rotate(-45 1345.25 1960.8)" stroke="#000" stroke-width="0.22">CG2991</text>
<rect x="1372.9" y="1806.9" width="12.2" height="124.1" fill="#0433ff"/>
<line x1="1379" y1="1806.9" x2="1379" y2="1798.6" stroke="#0433ff" stroke-width="1.8"/>
<line x1="1374.8" y1="1798.6" x2="1383.2" y2="1798.6" stroke="#0433ff" stroke-width="1.8"/>
<circle cx="1379.1" cy="1799.2" r="2.6" fill="none" stroke="#000" stroke-width="1"/>
<circle cx="1379.1" cy="1805.4" r="2.6" fill="none" stroke="#000" stroke-width="1"/>
<circle cx="1379.1" cy="1812.5" r="2.6" fill="none" stroke="#000" stroke-width="1"/>
<rect x="1394.8" y="1914" width="12.2" height="17" fill="#ff2600"/>
<line x1="1400.9" y1="1914" x2="1400.9" y2="1903.9" stroke="#ff2600" stroke-width="1.8"/>
<line x1="1396.7" y1="1903.9" x2="1405.1" y2="1903.9" stroke="#ff2600" stroke-width="1.8"/>
<circle cx="1401" cy="1904.2" r="2.6" fill="none" stroke="#000" stroke-width="1"/>
<circle cx="1396.1" cy="1917.7" r="2.6" fill="none" stroke="#000" stroke-width="1"/>
<circle cx="1406.2" cy="1915.3" r="2.6" fill="none" stroke="#000" stroke-width="1"/>
<line x1="1378.25" y1="1784.4" x2="1401.65" y2="1784.4" stroke="#000" stroke-width="1.6"/>
<text x="1389.95" y="1783.6" font-size="25" text-anchor="middle" font-weight="bold" stroke="#000" stroke-width="0.45">****</text>
<text x="1401.55" y="1960.8" font-size="19.7" text-anchor="end" transform="rotate(-45 1401.55 1960.8)" stroke="#000" stroke-width="0.22">pum</text>
<rect x="1431.2" y="1816.5" width="12.2" height="114.5" fill="#0433ff"/>
<line x1="1437.3" y1="1816.5" x2="1437.3" y2="1808.5" stroke="#0433ff" stroke-width="1.8"/>
<line x1="1433.1" y1="1808.5" x2="1441.5" y2="1808.5" stroke="#0433ff" stroke-width="1.8"/>
<circle cx="1433" cy="1809.4" r="2.6" fill="none" stroke="#000" stroke-width="1"/>
<circle cx="1442.2" cy="1814" r="2.6" fill="none" stroke="#000" stroke-width="1"/>
<circle cx="1437.6" cy="1823.8" r="2.6" fill="none" stroke="#000" stroke-width="1"/>
<rect x="1453.1" y="1892.5" width="12.2" height="38.5" fill="#ff2600"/>
<line x1="1459.2" y1="1892.5" x2="1459.2" y2="1890" stroke="#ff2600" stroke-width="1.8"/>
<line x1="1455" y1="1890" x2="1463.4" y2="1890" stroke="#ff2600" stroke-width="1.8"/>
<circle cx="1454.3" cy="1892.5" r="2.6" fill="none" stroke="#000" stroke-width="1"/>
<circle cx="1459.5" cy="1890.3" r="2.6" fill="none" stroke="#000" stroke-width="1"/>
<circle cx="1464.4" cy="1891" r="2.6" fill="none" stroke="#000" stroke-width="1"/>
<line x1="1436.55" y1="1790.3" x2="1459.95" y2="1790.3" stroke="#000" stroke-width="1.6"/>
<text x="1448.25" y="1789.5" font-size="25" text-anchor="middle" font-weight="bold" stroke="#000" stroke-width="0.45">****</text>
<text x="1459.85" y="1960.8" font-size="19.7" text-anchor="end" transform="rotate(-45 1459.85 1960.8)" stroke="#000" stroke-width="0.22">Syx1A</text>
<rect x="1489.5" y="1818" width="12.2" height="113" fill="#0433ff"/>
<line x1="1495.6" y1="1818" x2="1495.6" y2="1790" stroke="#0433ff" stroke-width="1.8"/>
<line x1="1491.4" y1="1790" x2="1499.8" y2="1790" stroke="#0433ff" stroke-width="1.8"/>
<circle cx="1495.8" cy="1790" r="2.6" fill="none" stroke="#000" stroke-width="1"/>
<circle cx="1495.8" cy="1816.5" r="2.6" fill="none" stroke="#000" stroke-width="1"/>
<circle cx="1495.8" cy="1844.2" r="2.6" fill="none" stroke="#000" stroke-width="1"/>
<rect x="1511.4" y="1874" width="12.2" height="57" fill="#ff2600"/>
<line x1="1517.5" y1="1874" x2="1517.5" y2="1864.8" stroke="#ff2600" stroke-width="1.8"/>
<line x1="1513.3" y1="1864.8" x2="1521.7" y2="1864.8" stroke="#ff2600" stroke-width="1.8"/>
<circle cx="1517.7" cy="1864.8" r="2.6" fill="none" stroke="#000" stroke-width="1"/>
<circle cx="1517.7" cy="1871.6" r="2.6" fill="none" stroke="#000" stroke-width="1"/>
<circle cx="1517.7" cy="1880.2" r="2.6" fill="none" stroke="#000" stroke-width="1"/>
<line x1="1494.85" y1="1775.8" x2="1518.25" y2="1775.8" stroke="#000" stroke-width="1.6"/>
<text x="1506.55" y="1775" font-size="25" text-anchor="middle" font-weight="bold" stroke="#000" stroke-width="0.45">*</text>
<text x="1516.75" y="1961.8" font-size="19.7" text-anchor="end" transform="rotate(-45 1516.75 1961.8)" stroke="#000" stroke-width="0.22">S6k</text>
<rect x="1547.8" y="1849.4" width="12.2" height="81.6" fill="#0433ff"/>
<line x1="1553.9" y1="1849.4" x2="1553.9" y2="1826.3" stroke="#0433ff" stroke-width="1.8"/>
<line x1="1549.7" y1="1826.3" x2="1558.1" y2="1826.3" stroke="#0433ff" stroke-width="1.8"/>
<circle cx="1554" cy="1824.2" r="2.6" fill="none" stroke="#000" stroke-width="1"/>
<circle cx="1554" cy="1856.2" r="2.6" fill="none" stroke="#000" stroke-width="1"/>
<circle cx="1554" cy="1864.2" r="2.6" fill="none" stroke="#000" stroke-width="1"/>
<rect x="1569.7" y="1912.5" width="12.2" height="18.5" fill="#ff2600"/>
<line x1="1575.8" y1="1912.5" x2="1575.8" y2="1910" stroke="#ff2600" stroke-width="1.8"/>
<line x1="1571.6" y1="1910" x2="1580" y2="1910" stroke="#ff2600" stroke-width="1.8"/>
<circle cx="1570.9" cy="1912.2" r="2.6" fill="none" stroke="#000" stroke-width="1"/>
<circle cx="1576.2" cy="1910.4" r="2.6" fill="none" stroke="#000" stroke-width="1"/>
<circle cx="1581.1" cy="1912.2" r="2.6" fill="none" stroke="#000" stroke-width="1"/>
<line x1="1553.15" y1="1814" x2="1576.55" y2="1814" stroke="#000" stroke-width="1.6"/>
<text x="1564.85" y="1813.2" font-size="25" text-anchor="middle" font-weight="bold" stroke="#000" stroke-width="0.45">**</text>
<text x="1576.45" y="1960.8" font-size="19.7" text-anchor="end" transform="rotate(-45 1576.45 1960.8)" stroke="#000" stroke-width="0.22">cv-2</text>
<rect x="1606.1" y="1907" width="12.2" height="24" fill="#0433ff"/>
<line x1="1612.2" y1="1907" x2="1612.2" y2="1896.2" stroke="#0433ff" stroke-width="1.8"/>
<line x1="1608" y1="1896.2" x2="1616.4" y2="1896.2" stroke="#0433ff" stroke-width="1.8"/>
<circle cx="1612.2" cy="1895.3" r="2.6" fill="none" stroke="#000" stroke-width="1"/>
<circle cx="1607.6" cy="1911.9" r="2.6" fill="none" stroke="#000" stroke-width="1"/>
<circle cx="1617.1" cy="1910.4" r="2.6" fill="none" stroke="#000" stroke-width="1"/>
<rect x="1628" y="1926.4" width="12.2" height="4.6" fill="#ff2600"/>
<line x1="1634.1" y1="1926.4" x2="1634.1" y2="1924.2" stroke="#ff2600" stroke-width="1.8"/>
<line x1="1629.9" y1="1924.2" x2="1638.3" y2="1924.2" stroke="#ff2600" stroke-width="1.8"/>
<circle cx="1629.4" cy="1924.8" r="2.6" fill="none" stroke="#000" stroke-width="1"/>
<circle cx="1634.4" cy="1923.9" r="2.6" fill="none" stroke="#000" stroke-width="1"/>
<circle cx="1639.3" cy="1924.5" r="2.6" fill="none" stroke="#000" stroke-width="1"/>
<line x1="1611.45" y1="1883" x2="1634.85" y2="1883" stroke="#000" stroke-width="1.6"/>
<text x="1623.15" y="1882.2" font-size="25" text-anchor="middle" font-weight="bold" stroke="#000" stroke-width="0.45">*</text>
<text x="1636.75" y="1959.8" font-size="19.7" text-anchor="end" transform="rotate(-45 1636.75 1959.8)" stroke="#000" stroke-width="0.22">MESK2</text>
<line x1="1014.7" y1="1613" x2="1014.7" y2="1932" stroke="#000" stroke-width="2"/>
<line x1="1013.7" y1="1931" x2="1648.8" y2="1931" stroke="#000" stroke-width="2"/>
<line x1="1003.7" y1="1931" x2="1014.7" y2="1931" stroke="#000" stroke-width="2"/>
<text x="1002.4" y="1937.6" font-size="18.7" text-anchor="end" font-weight="bold" stroke="#000" stroke-width="0.22">0.00</text>
<line x1="1003.7" y1="1867.6" x2="1014.7" y2="1867.6" stroke="#000" stroke-width="2"/>
<text x="1002.4" y="1874.2" font-size="18.7" text-anchor="end" font-weight="bold" stroke="#000" stroke-width="0.22">0.01</text>
<line x1="1003.7" y1="1804.2" x2="1014.7" y2="1804.2" stroke="#000" stroke-width="2"/>
<text x="1002.4" y="1810.8" font-size="18.7" text-anchor="end" font-weight="bold" stroke="#000" stroke-width="0.22">0.02</text>
<line x1="1003.7" y1="1740.8" x2="1014.7" y2="1740.8" stroke="#000" stroke-width="2"/>
<text x="1002.4" y="1747.4" font-size="18.7" text-anchor="end" font-weight="bold" stroke="#000" stroke-width="0.22">0.03</text>
<line x1="1003.7" y1="1677.4" x2="1014.7" y2="1677.4" stroke="#000" stroke-width="2"/>
<text x="1002.4" y="1684" font-size="18.7" text-anchor="end" font-weight="bold" stroke="#000" stroke-width="0.22">0.04</text>
<line x1="1003.7" y1="1614" x2="1014.7" y2="1614" stroke="#000" stroke-width="2"/>
<text x="1002.4" y="1620.6" font-size="18.7" text-anchor="end" font-weight="bold" stroke="#000" stroke-width="0.22">0.05</text>
<text x="931.6" y="1750" font-size="21.3" text-anchor="middle" transform="rotate(-90 931.6 1750)" stroke="#000" stroke-width="0.22">Enrichment(% input)</text>
<rect x="1643.9" y="1682.4" width="30.4" height="17.3" fill="#0433ff"/>
<rect x="1643.9" y="1720.2" width="30.4" height="17.3" fill="#ff2600"/>
<text x="1688.9" y="1698.5" font-size="20.6" stroke="#000" stroke-width="0.22">yw</text>
<text x="1688.9" y="1737.6" font-size="20.6" stroke="#000" stroke-width="0.22">Mettl3<tspan font-size="15.3" dy="-7.6">SK2</tspan><tspan dy="7.6">/Df</tspan></text>
<text x="863" y="2074" font-size="38.5" font-weight="bold" stroke="#000" stroke-width="0.22">l</text>
<text x="1416.2" y="2127.4" font-size="24.45" text-anchor="middle" stroke="#000" stroke-width="0.22">mRNA decay assay</text>
<rect x="1056.3" y="2224" width="15.3" height="190" fill="#0433ff"/>
<line x1="1063.95" y1="2224" x2="1063.95" y2="2214.2" stroke="#0433ff" stroke-width="1.8"/>
<line x1="1058.95" y1="2214.2" x2="1068.95" y2="2214.2" stroke="#0433ff" stroke-width="1.8"/>
<circle cx="1063.9" cy="2213.1" r="2.6" fill="none" stroke="#000" stroke-width="1"/>
<circle cx="1059.4" cy="2229.1" r="2.6" fill="none" stroke="#000" stroke-width="1"/>
<circle cx="1068.1" cy="2226.8" r="2.6" fill="none" stroke="#000" stroke-width="1"/>
<rect x="1081.9" y="2224" width="15.3" height="190" fill="#ff2600"/>
<line x1="1089.55" y1="2224" x2="1089.55" y2="2214.2" stroke="#ff2600" stroke-width="1.8"/>
<line x1="1084.55" y1="2214.2" x2="1094.55" y2="2214.2" stroke="#ff2600" stroke-width="1.8"/>
<circle cx="1089.4" cy="2213.1" r="2.6" fill="none" stroke="#000" stroke-width="1"/>
<circle cx="1085" cy="2229.1" r="2.6" fill="none" stroke="#000" stroke-width="1"/>
<circle cx="1093.9" cy="2226.8" r="2.6" fill="none" stroke="#000" stroke-width="1"/>
<line x1="1063.35" y1="2202.7" x2="1088.95" y2="2202.7" stroke="#000" stroke-width="1.7"/>
<text x="1076.05" y="2191.7" font-size="16.5" text-anchor="middle" font-family="'Liberation Serif', serif" stroke="#000" stroke-width="0.22">ns</text>
<text x="1088.55" y="2442" font-size="18.8" text-anchor="end" transform="rotate(-45 1088.55 2442)" stroke="#000" stroke-width="0.22">Oda</text>
<rect x="1125.3" y="2241.2" width="15.3" height="172.8" fill="#0433ff"/>
<line x1="1132.95" y1="2241.2" x2="1132.95" y2="2225.2" stroke="#0433ff" stroke-width="1.8"/>
<line x1="1127.95" y1="2225.2" x2="1137.95" y2="2225.2" stroke="#0433ff" stroke-width="1.8"/>
<circle cx="1132.7" cy="2226.6" r="2.6" fill="none" stroke="#000" stroke-width="1"/>
<circle cx="1132.7" cy="2237.8" r="2.6" fill="none" stroke="#000" stroke-width="1"/>
<circle cx="1132.7" cy="2256.6" r="2.6" fill="none" stroke="#000" stroke-width="1"/>
<rect x="1150.9" y="2227.7" width="15.3" height="186.3" fill="#ff2600"/>
<line x1="1158.55" y1="2227.7" x2="1158.55" y2="2223.8" stroke="#ff2600" stroke-width="1.8"/>
<line x1="1153.55" y1="2223.8" x2="1163.55" y2="2223.8" stroke="#ff2600" stroke-width="1.8"/>
<circle cx="1158.6" cy="2223.8" r="2.6" fill="none" stroke="#000" stroke-width="1"/>
<circle cx="1154.1" cy="2229.4" r="2.6" fill="none" stroke="#000" stroke-width="1"/>
<circle cx="1163" cy="2229.1" r="2.6" fill="none" stroke="#000" stroke-width="1"/>
<line x1="1132.35" y1="2206.3" x2="1157.95" y2="2206.3" stroke="#000" stroke-width="1.7"/>
<text x="1145.05" y="2195.4" font-size="16.5" text-anchor="middle" font-family="'Liberation Serif', serif" stroke="#000" stroke-width="0.22">ns</text>
<text x="1154.65" y="2442" font-size="18.8" text-anchor="end" transform="rotate(-45 1154.65 2442)" stroke="#000" stroke-width="0.22">Atpalpha</text>
<rect x="1194.3" y="2269.3" width="15.3" height="144.7" fill="#0433ff"/>
<line x1="1201.95" y1="2269.3" x2="1201.95" y2="2261.4" stroke="#0433ff" stroke-width="1.8"/>
<line x1="1196.95" y1="2261.4" x2="1206.95" y2="2261.4" stroke="#0433ff" stroke-width="1.8"/>
<circle cx="1197.6" cy="2264.8" r="2.6" fill="none" stroke="#000" stroke-width="1"/>
<circle cx="1206" cy="2264.8" r="2.6" fill="none" stroke="#000" stroke-width="1"/>
<circle cx="1201.8" cy="2275.5" r="2.6" fill="none" stroke="#000" stroke-width="1"/>
<rect x="1219.9" y="2309.2" width="15.3" height="104.8" fill="#ff2600"/>
<line x1="1227.55" y1="2309.2" x2="1227.55" y2="2278.8" stroke="#ff2600" stroke-width="1.8"/>
<line x1="1222.55" y1="2278.8" x2="1232.55" y2="2278.8" stroke="#ff2600" stroke-width="1.8"/>
<circle cx="1227.7" cy="2283.6" r="2.6" fill="none" stroke="#000" stroke-width="1"/>
<circle cx="1227.7" cy="2300.2" r="2.6" fill="none" stroke="#000" stroke-width="1"/>
<circle cx="1227.7" cy="2340.9" r="2.6" fill="none" stroke="#000" stroke-width="1"/>
<line x1="1201.35" y1="2247.9" x2="1226.95" y2="2247.9" stroke="#000" stroke-width="1.7"/>
<text x="1214.05" y="2237.5" font-size="16.5" text-anchor="middle" font-family="'Liberation Serif', serif" stroke="#000" stroke-width="0.22">ns</text>
<text x="1228.15" y="2441.1" font-size="18.8" text-anchor="end" transform="rotate(-45 1228.15 2441.1)" stroke="#000" stroke-width="0.22">Syx1A</text>
<rect x="1263.3" y="2289.2" width="15.3" height="124.8" fill="#0433ff"/>
<line x1="1270.95" y1="2289.2" x2="1270.95" y2="2271.8" stroke="#0433ff" stroke-width="1.8"/>
<line x1="1265.95" y1="2271.8" x2="1275.95" y2="2271.8" stroke="#0433ff" stroke-width="1.8"/>
<circle cx="1270.7" cy="2272.9" r="2.6" fill="none" stroke="#000" stroke-width="1"/>
<circle cx="1270.7" cy="2286.4" r="2.6" fill="none" stroke="#000" stroke-width="1"/>
<circle cx="1270.7" cy="2305.5" r="2.6" fill="none" stroke="#000" stroke-width="1"/>
<rect x="1288.9" y="2262" width="15.3" height="152" fill="#ff2600"/>
<line x1="1296.55" y1="2262" x2="1296.55" y2="2246.8" stroke="#ff2600" stroke-width="1.8"/>
<line x1="1291.55" y1="2246.8" x2="1301.55" y2="2246.8" stroke="#ff2600" stroke-width="1.8"/>
<circle cx="1296.8" cy="2246" r="2.6" fill="none" stroke="#000" stroke-width="1"/>
<circle cx="1296.8" cy="2265.1" r="2.6" fill="none" stroke="#000" stroke-width="1"/>
<circle cx="1296.8" cy="2272.9" r="2.6" fill="none" stroke="#000" stroke-width="1"/>
<line x1="1270.35" y1="2232.5" x2="1295.95" y2="2232.5" stroke="#000" stroke-width="1.7"/>
<text x="1283.05" y="2221.5" font-size="16.5" text-anchor="middle" font-family="'Liberation Serif', serif" stroke="#000" stroke-width="0.22">ns</text>
<text x="1296.15" y="2442" font-size="18.8" text-anchor="end" transform="rotate(-45 1296.15 2442)" stroke="#000" stroke-width="0.22">gish</text>
<rect x="1332.3" y="2309.2" width="15.3" height="104.8" fill="#0433ff"/>
<line x1="1339.95" y1="2309.2" x2="1339.95" y2="2305" stroke="#0433ff" stroke-width="1.8"/>
<line x1="1334.95" y1="2305" x2="1344.95" y2="2305" stroke="#0433ff" stroke-width="1.8"/>
<circle cx="1335.3" cy="2305.5" r="2.6" fill="none" stroke="#000" stroke-width="1"/>
<circle cx="1343.7" cy="2308.1" r="2.6" fill="none" stroke="#000" stroke-width="1"/>
<circle cx="1335.3" cy="2311.1" r="2.6" fill="none" stroke="#000" stroke-width="1"/>
<rect x="1357.9" y="2301" width="15.3" height="113" fill="#ff2600"/>
<line x1="1365.55" y1="2301" x2="1365.55" y2="2281" stroke="#ff2600" stroke-width="1.8"/>
<line x1="1360.55" y1="2281" x2="1370.55" y2="2281" stroke="#ff2600" stroke-width="1.8"/>
<circle cx="1365.7" cy="2281.1" r="2.6" fill="none" stroke="#000" stroke-width="1"/>
<circle cx="1365.7" cy="2300.2" r="2.6" fill="none" stroke="#000" stroke-width="1"/>
<circle cx="1365.7" cy="2319.3" r="2.6" fill="none" stroke="#000" stroke-width="1"/>
<line x1="1339.35" y1="2267.1" x2="1364.95" y2="2267.1" stroke="#000" stroke-width="1.7"/>
<text x="1352.05" y="2256.5" font-size="16.5" text-anchor="middle" font-family="'Liberation Serif', serif" stroke="#000" stroke-width="0.22">ns</text>
<text x="1372.35" y="2441.1" font-size="18.8" text-anchor="end" transform="rotate(-45 1372.35 2441.1)" stroke="#000" stroke-width="0.22">MESK2</text>
<rect x="1401.3" y="2313.4" width="15.3" height="100.6" fill="#0433ff"/>
<line x1="1408.95" y1="2313.4" x2="1408.95" y2="2297.8" stroke="#0433ff" stroke-width="1.8"/>
<line x1="1403.95" y1="2297.8" x2="1413.95" y2="2297.8" stroke="#0433ff" stroke-width="1.8"/>
<circle cx="1408.9" cy="2297.2" r="2.6" fill="none" stroke="#000" stroke-width="1"/>
<circle cx="1408.9" cy="2313.9" r="2.6" fill="none" stroke="#000" stroke-width="1"/>
<circle cx="1408.9" cy="2327.2" r="2.6" fill="none" stroke="#000" stroke-width="1"/>
<rect x="1426.9" y="2326.1" width="15.3" height="87.9" fill="#ff2600"/>
<line x1="1434.55" y1="2326.1" x2="1434.55" y2="2303.2" stroke="#ff2600" stroke-width="1.8"/>
<line x1="1429.55" y1="2303.2" x2="1439.55" y2="2303.2" stroke="#ff2600" stroke-width="1.8"/>
<circle cx="1434.7" cy="2305.4" r="2.6" fill="none" stroke="#000" stroke-width="1"/>
<circle cx="1434.7" cy="2322.4" r="2.6" fill="none" stroke="#000" stroke-width="1"/>
<circle cx="1434.7" cy="2349.1" r="2.6" fill="none" stroke="#000" stroke-width="1"/>
<line x1="1408.35" y1="2281.3" x2="1433.95" y2="2281.3" stroke="#000" stroke-width="1.7"/>
<text x="1421.05" y="2270.6" font-size="16.5" text-anchor="middle" font-family="'Liberation Serif', serif" stroke="#000" stroke-width="0.22">ns</text>
<text x="1435.55" y="2441.1" font-size="18.8" text-anchor="end" transform="rotate(-45 1435.55 2441.1)" stroke="#000" stroke-width="0.22">cv-2</text>
<rect x="1470.3" y="2336" width="15.3" height="78" fill="#0433ff"/>
<line x1="1477.95" y1="2336" x2="1477.95" y2="2330.4" stroke="#0433ff" stroke-width="1.8"/>
<line x1="1472.95" y1="2330.4" x2="1482.95" y2="2330.4" stroke="#0433ff" stroke-width="1.8"/>
<circle cx="1473.8" cy="2332.9" r="2.6" fill="none" stroke="#000" stroke-width="1"/>
<circle cx="1482.3" cy="2332.9" r="2.6" fill="none" stroke="#000" stroke-width="1"/>
<circle cx="1477.8" cy="2340.6" r="2.6" fill="none" stroke="#000" stroke-width="1"/>
<rect x="1495.9" y="2337.2" width="15.3" height="76.8" fill="#ff2600"/>
<line x1="1503.55" y1="2337.2" x2="1503.55" y2="2330.4" stroke="#ff2600" stroke-width="1.8"/>
<line x1="1498.55" y1="2330.4" x2="1508.55" y2="2330.4" stroke="#ff2600" stroke-width="1.8"/>
<circle cx="1503.8" cy="2330.4" r="2.6" fill="none" stroke="#000" stroke-width="1"/>
<circle cx="1499.3" cy="2340.9" r="2.6" fill="none" stroke="#000" stroke-width="1"/>
<circle cx="1508.4" cy="2338.6" r="2.6" fill="none" stroke="#000" stroke-width="1"/>
<line x1="1477.35" y1="2313.9" x2="1502.95" y2="2313.9" stroke="#000" stroke-width="1.7"/>
<text x="1490.05" y="2304" font-size="16.5" text-anchor="middle" font-family="'Liberation Serif', serif" stroke="#000" stroke-width="0.22">ns</text>
<text x="1507.45" y="2441.1" font-size="18.8" text-anchor="end" transform="rotate(-45 1507.45 2441.1)" stroke="#000" stroke-width="0.22">CG2991</text>
<rect x="1539.3" y="2360.7" width="15.3" height="53.3" fill="#0433ff"/>
<line x1="1546.95" y1="2360.7" x2="1546.95" y2="2358.1" stroke="#0433ff" stroke-width="1.8"/>
<line x1="1541.95" y1="2358.1" x2="1551.95" y2="2358.1" stroke="#0433ff" stroke-width="1.8"/>
<circle cx="1540.7" cy="2362.7" r="2.6" fill="none" stroke="#000" stroke-width="1"/>
<circle cx="1546.9" cy="2360.1" r="2.6" fill="none" stroke="#000" stroke-width="1"/>
<circle cx="1553.1" cy="2359.8" r="2.6" fill="none" stroke="#000" stroke-width="1"/>
<rect x="1564.9" y="2363" width="15.3" height="51" fill="#ff2600"/>
<line x1="1572.55" y1="2363" x2="1572.55" y2="2357.3" stroke="#ff2600" stroke-width="1.8"/>
<line x1="1567.55" y1="2357.3" x2="1577.55" y2="2357.3" stroke="#ff2600" stroke-width="1.8"/>
<circle cx="1572.7" cy="2357" r="2.6" fill="none" stroke="#000" stroke-width="1"/>
<circle cx="1568.2" cy="2365" r="2.6" fill="none" stroke="#000" stroke-width="1"/>
<circle cx="1577" cy="2362.7" r="2.6" fill="none" stroke="#000" stroke-width="1"/>
<line x1="1546.35" y1="2340.6" x2="1571.95" y2="2340.6" stroke="#000" stroke-width="1.7"/>
<text x="1559.05" y="2330.4" font-size="16.5" text-anchor="middle" font-family="'Liberation Serif', serif" stroke="#000" stroke-width="0.22">ns</text>
<text x="1575.45" y="2443.5" font-size="18.8" text-anchor="end" transform="rotate(-45 1575.45 2443.5)" stroke="#000" stroke-width="0.22">fl(2)d</text>
<line x1="1047" y1="2141.5" x2="1047" y2="2415" stroke="#000" stroke-width="2"/>
<line x1="1046" y1="2414" x2="1590" y2="2414" stroke="#000" stroke-width="2"/>
<line x1="1038" y1="2414" x2="1047" y2="2414" stroke="#000" stroke-width="2"/>
<text x="1035.2" y="2420.7" font-size="18.9" text-anchor="end" font-weight="bold" stroke="#000" stroke-width="0.22">0</text>
<line x1="1038" y1="2359.6" x2="1047" y2="2359.6" stroke="#000" stroke-width="2"/>
<text x="1035.2" y="2366.3" font-size="18.9" text-anchor="end" font-weight="bold" stroke="#000" stroke-width="0.22">20</text>
<line x1="1038" y1="2305.2" x2="1047" y2="2305.2" stroke="#000" stroke-width="2"/>
<text x="1035.2" y="2311.9" font-size="18.9" text-anchor="end" font-weight="bold" stroke="#000" stroke-width="0.22">40</text>
<line x1="1038" y1="2250.8" x2="1047" y2="2250.8" stroke="#000" stroke-width="2"/>
<text x="1035.2" y="2257.5" font-size="18.9" text-anchor="end" font-weight="bold" stroke="#000" stroke-width="0.22">60</text>
<line x1="1038" y1="2196.4" x2="1047" y2="2196.4" stroke="#000" stroke-width="2"/>
<text x="1035.2" y="2203.1" font-size="18.9" text-anchor="end" font-weight="bold" stroke="#000" stroke-width="0.22">80</text>
<line x1="1038" y1="2142" x2="1047" y2="2142" stroke="#000" stroke-width="2"/>
<text x="1035.2" y="2148.7" font-size="18.9" text-anchor="end" font-weight="bold" stroke="#000" stroke-width="0.22">100</text>
<text x="959.4" y="2262.6" font-size="21.3" text-anchor="middle" transform="rotate(-90 959.4 2262.6)" stroke="#000" stroke-width="0.22">% of RNA at t=0</text>
<rect x="1645.4" y="2227.3" width="30.4" height="17.3" fill="#0433ff"/>
<rect x="1645.4" y="2265" width="30.4" height="17.3" fill="#ff2600"/>
<text x="1690.6" y="2243" font-size="20.6" stroke="#000" stroke-width="0.22">yw</text>
<text x="1690.6" y="2282.7" font-size="20.6" stroke="#000" stroke-width="0.22">Mettl3<tspan font-size="15.3" dy="-7.6">SK2</tspan><tspan dy="7.6">/Df</tspan></text>
</svg>
</body>
</html>
